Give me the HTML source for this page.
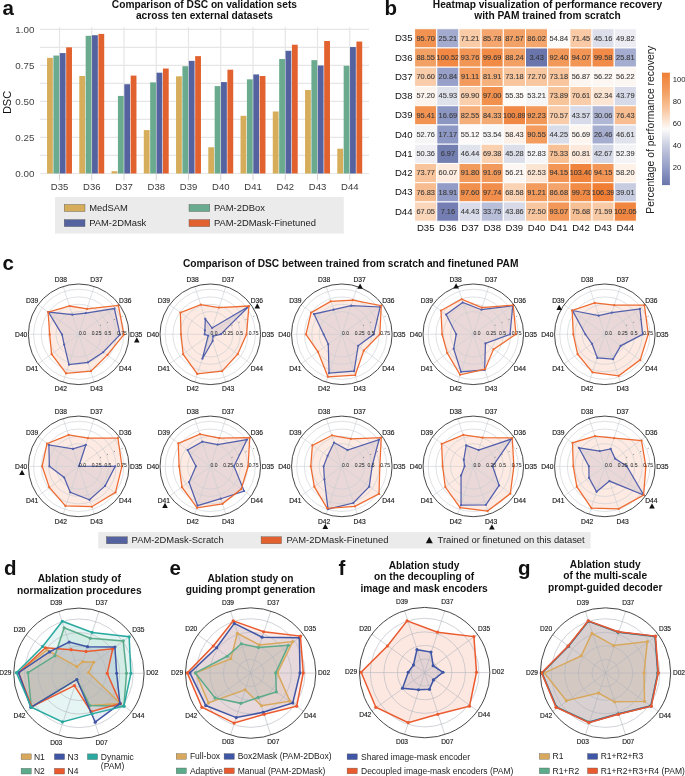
<!DOCTYPE html>
<html><head><meta charset="utf-8"><style>
html,body{margin:0;padding:0;background:#fff;}
svg{display:block;font-family:"Liberation Sans", sans-serif;will-change:transform;}
</style></head><body>
<svg width="685" height="776" viewBox="0 0 685 776">
<rect width="685" height="776" fill="#fff"/>
<text x="2.5" y="15.3" font-size="20.5" font-weight="bold" text-anchor="start" fill="#111">a</text>
<text x="384.5" y="14.8" font-size="20.5" font-weight="bold" text-anchor="start" fill="#111">b</text>
<text x="2.5" y="269.8" font-size="20.5" font-weight="bold" text-anchor="start" fill="#111">c</text>
<text x="4" y="575" font-size="20.5" font-weight="bold" text-anchor="start" fill="#111">d</text>
<text x="169.5" y="575" font-size="20.5" font-weight="bold" text-anchor="start" fill="#111">e</text>
<text x="338.5" y="575" font-size="20.5" font-weight="bold" text-anchor="start" fill="#111">f</text>
<text x="518" y="575" font-size="20.5" font-weight="bold" text-anchor="start" fill="#111">g</text>
<line x1="40" y1="173.5" x2="369" y2="173.5" stroke="#e6e6e6" stroke-width="1.2"/>
<line x1="40" y1="155.47" x2="369" y2="155.47" stroke="#e6e6e6" stroke-width="1.2"/>
<line x1="40" y1="137.45" x2="369" y2="137.45" stroke="#e6e6e6" stroke-width="1.2"/>
<line x1="40" y1="119.43" x2="369" y2="119.43" stroke="#e6e6e6" stroke-width="1.2"/>
<line x1="40" y1="101.4" x2="369" y2="101.4" stroke="#e6e6e6" stroke-width="1.2"/>
<line x1="40" y1="83.38" x2="369" y2="83.38" stroke="#e6e6e6" stroke-width="1.2"/>
<line x1="40" y1="65.35" x2="369" y2="65.35" stroke="#e6e6e6" stroke-width="1.2"/>
<line x1="40" y1="47.33" x2="369" y2="47.33" stroke="#e6e6e6" stroke-width="1.2"/>
<line x1="40" y1="29.3" x2="369" y2="29.3" stroke="#e6e6e6" stroke-width="1.2"/>
<line x1="59.5" y1="27" x2="59.5" y2="173.5" stroke="#e6e6e6" stroke-width="1.2"/>
<line x1="59.5" y1="173.5" x2="59.5" y2="180.4" stroke="#cfcfcf" stroke-width="0.9"/>
<line x1="91.75" y1="27" x2="91.75" y2="173.5" stroke="#e6e6e6" stroke-width="1.2"/>
<line x1="91.75" y1="173.5" x2="91.75" y2="180.4" stroke="#cfcfcf" stroke-width="0.9"/>
<line x1="124" y1="27" x2="124" y2="173.5" stroke="#e6e6e6" stroke-width="1.2"/>
<line x1="124" y1="173.5" x2="124" y2="180.4" stroke="#cfcfcf" stroke-width="0.9"/>
<line x1="156.25" y1="27" x2="156.25" y2="173.5" stroke="#e6e6e6" stroke-width="1.2"/>
<line x1="156.25" y1="173.5" x2="156.25" y2="180.4" stroke="#cfcfcf" stroke-width="0.9"/>
<line x1="188.5" y1="27" x2="188.5" y2="173.5" stroke="#e6e6e6" stroke-width="1.2"/>
<line x1="188.5" y1="173.5" x2="188.5" y2="180.4" stroke="#cfcfcf" stroke-width="0.9"/>
<line x1="220.75" y1="27" x2="220.75" y2="173.5" stroke="#e6e6e6" stroke-width="1.2"/>
<line x1="220.75" y1="173.5" x2="220.75" y2="180.4" stroke="#cfcfcf" stroke-width="0.9"/>
<line x1="253" y1="27" x2="253" y2="173.5" stroke="#e6e6e6" stroke-width="1.2"/>
<line x1="253" y1="173.5" x2="253" y2="180.4" stroke="#cfcfcf" stroke-width="0.9"/>
<line x1="285.25" y1="27" x2="285.25" y2="173.5" stroke="#e6e6e6" stroke-width="1.2"/>
<line x1="285.25" y1="173.5" x2="285.25" y2="180.4" stroke="#cfcfcf" stroke-width="0.9"/>
<line x1="317.5" y1="27" x2="317.5" y2="173.5" stroke="#e6e6e6" stroke-width="1.2"/>
<line x1="317.5" y1="173.5" x2="317.5" y2="180.4" stroke="#cfcfcf" stroke-width="0.9"/>
<line x1="349.75" y1="27" x2="349.75" y2="173.5" stroke="#e6e6e6" stroke-width="1.2"/>
<line x1="349.75" y1="173.5" x2="349.75" y2="180.4" stroke="#cfcfcf" stroke-width="0.9"/>
<rect x="47.03" y="57.85" width="5.8" height="115.65" fill="#d5ad5b"/>
<rect x="53.41" y="55.54" width="5.8" height="117.96" fill="#6aab8f"/>
<rect x="59.79" y="53.09" width="5.8" height="120.41" fill="#5562a0"/>
<rect x="66.17" y="47.33" width="5.8" height="126.17" fill="#e2622f"/>
<rect x="79.28" y="76.02" width="5.8" height="97.48" fill="#d5ad5b"/>
<rect x="85.66" y="35.79" width="5.8" height="137.71" fill="#6aab8f"/>
<rect x="92.04" y="35.21" width="5.8" height="138.29" fill="#5562a0"/>
<rect x="98.42" y="33.91" width="5.8" height="139.59" fill="#e2622f"/>
<rect x="111.53" y="171.19" width="5.8" height="2.31" fill="#d5ad5b"/>
<rect x="117.91" y="95.92" width="5.8" height="77.58" fill="#6aab8f"/>
<rect x="124.29" y="84.24" width="5.8" height="89.26" fill="#5562a0"/>
<rect x="130.67" y="75.59" width="5.8" height="97.91" fill="#e2622f"/>
<rect x="143.78" y="130.1" width="5.8" height="43.4" fill="#d5ad5b"/>
<rect x="150.16" y="82.37" width="5.8" height="91.13" fill="#6aab8f"/>
<rect x="156.54" y="72.7" width="5.8" height="100.8" fill="#5562a0"/>
<rect x="162.92" y="68.52" width="5.8" height="104.98" fill="#e2622f"/>
<rect x="176.03" y="76.31" width="5.8" height="97.19" fill="#d5ad5b"/>
<rect x="182.41" y="66.22" width="5.8" height="107.28" fill="#6aab8f"/>
<rect x="188.79" y="60.88" width="5.8" height="112.62" fill="#5562a0"/>
<rect x="195.17" y="56.12" width="5.8" height="117.38" fill="#e2622f"/>
<rect x="208.28" y="147.26" width="5.8" height="26.24" fill="#d5ad5b"/>
<rect x="214.66" y="86.11" width="5.8" height="87.39" fill="#6aab8f"/>
<rect x="221.04" y="82.08" width="5.8" height="91.42" fill="#5562a0"/>
<rect x="227.42" y="69.68" width="5.8" height="103.82" fill="#e2622f"/>
<rect x="240.53" y="115.82" width="5.8" height="57.68" fill="#d5ad5b"/>
<rect x="246.91" y="79.34" width="5.8" height="94.16" fill="#6aab8f"/>
<rect x="253.29" y="74.43" width="5.8" height="99.07" fill="#5562a0"/>
<rect x="259.67" y="76.02" width="5.8" height="97.48" fill="#e2622f"/>
<rect x="272.78" y="111.49" width="5.8" height="62.01" fill="#d5ad5b"/>
<rect x="279.16" y="59.01" width="5.8" height="114.49" fill="#6aab8f"/>
<rect x="285.54" y="50.79" width="5.8" height="122.71" fill="#5562a0"/>
<rect x="291.92" y="44.73" width="5.8" height="128.77" fill="#e2622f"/>
<rect x="305.03" y="90.01" width="5.8" height="83.49" fill="#d5ad5b"/>
<rect x="311.41" y="60.16" width="5.8" height="113.34" fill="#6aab8f"/>
<rect x="317.79" y="65.49" width="5.8" height="108.01" fill="#5562a0"/>
<rect x="324.17" y="40.98" width="5.8" height="132.52" fill="#e2622f"/>
<rect x="337.28" y="148.7" width="5.8" height="24.8" fill="#d5ad5b"/>
<rect x="343.66" y="65.78" width="5.8" height="107.72" fill="#6aab8f"/>
<rect x="350.04" y="47.04" width="5.8" height="126.46" fill="#5562a0"/>
<rect x="356.42" y="41.56" width="5.8" height="131.94" fill="#e2622f"/>
<text x="34.4" y="176.9" font-size="9.8" text-anchor="end" fill="#444">0.00</text>
<text x="34.4" y="140.85" font-size="9.8" text-anchor="end" fill="#444">0.25</text>
<text x="34.4" y="104.8" font-size="9.8" text-anchor="end" fill="#444">0.50</text>
<text x="34.4" y="68.75" font-size="9.8" text-anchor="end" fill="#444">0.75</text>
<text x="34.4" y="32.7" font-size="9.8" text-anchor="end" fill="#444">1.00</text>
<text x="59.5" y="190.1" font-size="9.5" text-anchor="middle" fill="#3a3a3a">D35</text>
<text x="91.75" y="190.1" font-size="9.5" text-anchor="middle" fill="#3a3a3a">D36</text>
<text x="124" y="190.1" font-size="9.5" text-anchor="middle" fill="#3a3a3a">D37</text>
<text x="156.25" y="190.1" font-size="9.5" text-anchor="middle" fill="#3a3a3a">D38</text>
<text x="188.5" y="190.1" font-size="9.5" text-anchor="middle" fill="#3a3a3a">D39</text>
<text x="220.75" y="190.1" font-size="9.5" text-anchor="middle" fill="#3a3a3a">D40</text>
<text x="253" y="190.1" font-size="9.5" text-anchor="middle" fill="#3a3a3a">D41</text>
<text x="285.25" y="190.1" font-size="9.5" text-anchor="middle" fill="#3a3a3a">D42</text>
<text x="317.5" y="190.1" font-size="9.5" text-anchor="middle" fill="#3a3a3a">D43</text>
<text x="349.75" y="190.1" font-size="9.5" text-anchor="middle" fill="#3a3a3a">D44</text>
<text x="0" y="0" font-size="11" fill="#111" text-anchor="middle" transform="translate(11.0,102.5) rotate(-90)">DSC</text>
<text x="204.4" y="8.1" font-size="10.2" font-weight="bold" text-anchor="middle" fill="#111">Comparison of DSC on validation sets</text>
<text x="204.4" y="19.1" font-size="10.2" font-weight="bold" text-anchor="middle" fill="#111">across ten external datasets</text>
<rect x="55" y="197" width="288.8" height="36.6" fill="#ebebeb"/>
<rect x="64.2" y="204.5" width="20.8" height="7" fill="#d5ad5b" stroke="#555" stroke-width="0.4"/>
<text x="89.2" y="210.7" font-size="9.4" text-anchor="start" fill="#222">MedSAM</text>
<rect x="64.2" y="219.6" width="20.8" height="7" fill="#5562a0" stroke="#555" stroke-width="0.4"/>
<text x="89.2" y="225.8" font-size="9.4" text-anchor="start" fill="#222">PAM-2DMask</text>
<rect x="189" y="204.5" width="20.8" height="7" fill="#6aab8f" stroke="#555" stroke-width="0.4"/>
<text x="214" y="210.7" font-size="9.4" text-anchor="start" fill="#222">PAM-2DBox</text>
<rect x="189" y="219.6" width="20.8" height="7" fill="#e2622f" stroke="#555" stroke-width="0.4"/>
<text x="214" y="225.8" font-size="9.4" text-anchor="start" fill="#222">PAM-2DMask-Finetuned</text>
<rect x="414.6" y="28.7" width="22.18" height="19.25" fill="#f29251" stroke="#fff" stroke-width="1"/>
<text x="425.69" y="40.62" font-size="7.4" text-anchor="middle" fill="#383838" stroke="#383838" stroke-width="0.1">95.70</text>
<rect x="436.78" y="28.7" width="22.18" height="19.25" fill="#a3abce" stroke="#fff" stroke-width="1"/>
<text x="447.87" y="40.62" font-size="7.4" text-anchor="middle" fill="#383838" stroke="#383838" stroke-width="0.1">25.21</text>
<rect x="458.96" y="28.7" width="22.18" height="19.25" fill="#f9cba7" stroke="#fff" stroke-width="1"/>
<text x="470.05" y="40.62" font-size="7.4" text-anchor="middle" fill="#383838" stroke="#383838" stroke-width="0.1">71.21</text>
<rect x="481.14" y="28.7" width="22.18" height="19.25" fill="#f4a66e" stroke="#fff" stroke-width="1"/>
<text x="492.23" y="40.62" font-size="7.4" text-anchor="middle" fill="#383838" stroke="#383838" stroke-width="0.1">85.78</text>
<rect x="503.32" y="28.7" width="22.18" height="19.25" fill="#f3a267" stroke="#fff" stroke-width="1"/>
<text x="514.41" y="40.62" font-size="7.4" text-anchor="middle" fill="#383838" stroke="#383838" stroke-width="0.1">87.57</text>
<rect x="525.5" y="28.7" width="22.18" height="19.25" fill="#f4a66d" stroke="#fff" stroke-width="1"/>
<text x="536.59" y="40.62" font-size="7.4" text-anchor="middle" fill="#383838" stroke="#383838" stroke-width="0.1">86.02</text>
<rect x="547.68" y="28.7" width="22.18" height="19.25" fill="#fdfbfa" stroke="#fff" stroke-width="1"/>
<text x="558.77" y="40.62" font-size="7.4" text-anchor="middle" fill="#383838" stroke="#383838" stroke-width="0.1">54.84</text>
<rect x="569.86" y="28.7" width="22.18" height="19.25" fill="#f9caa5" stroke="#fff" stroke-width="1"/>
<text x="580.95" y="40.62" font-size="7.4" text-anchor="middle" fill="#383838" stroke="#383838" stroke-width="0.1">71.45</text>
<rect x="592.04" y="28.7" width="22.18" height="19.25" fill="#dcdeea" stroke="#fff" stroke-width="1"/>
<text x="603.13" y="40.62" font-size="7.4" text-anchor="middle" fill="#383838" stroke="#383838" stroke-width="0.1">45.16</text>
<rect x="614.22" y="28.7" width="22.18" height="19.25" fill="#ececf2" stroke="#fff" stroke-width="1"/>
<text x="625.31" y="40.62" font-size="7.4" text-anchor="middle" fill="#383838" stroke="#383838" stroke-width="0.1">49.82</text>
<rect x="414.6" y="47.95" width="22.18" height="19.25" fill="#f3a064" stroke="#fff" stroke-width="1"/>
<text x="425.69" y="59.88" font-size="7.4" text-anchor="middle" fill="#383838" stroke="#383838" stroke-width="0.1">88.55</text>
<rect x="436.78" y="47.95" width="22.18" height="19.25" fill="#f18944" stroke="#fff" stroke-width="1"/>
<text x="447.87" y="59.88" font-size="7.4" text-anchor="middle" fill="#383838" stroke="#383838" stroke-width="0.1">100.52</text>
<rect x="458.96" y="47.95" width="22.18" height="19.25" fill="#f29656" stroke="#fff" stroke-width="1"/>
<text x="470.05" y="59.88" font-size="7.4" text-anchor="middle" fill="#383838" stroke="#383838" stroke-width="0.1">93.76</text>
<rect x="481.14" y="47.95" width="22.18" height="19.25" fill="#f18b46" stroke="#fff" stroke-width="1"/>
<text x="492.23" y="59.88" font-size="7.4" text-anchor="middle" fill="#383838" stroke="#383838" stroke-width="0.1">99.69</text>
<rect x="503.32" y="47.95" width="22.18" height="19.25" fill="#f3a064" stroke="#fff" stroke-width="1"/>
<text x="514.41" y="59.88" font-size="7.4" text-anchor="middle" fill="#383838" stroke="#383838" stroke-width="0.1">88.24</text>
<rect x="525.5" y="47.95" width="22.18" height="19.25" fill="#6a75ab" stroke="#fff" stroke-width="1"/>
<text x="536.59" y="59.88" font-size="7.4" text-anchor="middle" fill="#383838" stroke="#383838" stroke-width="0.1">3.43</text>
<rect x="547.68" y="47.95" width="22.18" height="19.25" fill="#f29859" stroke="#fff" stroke-width="1"/>
<text x="558.77" y="59.88" font-size="7.4" text-anchor="middle" fill="#383838" stroke="#383838" stroke-width="0.1">92.40</text>
<rect x="569.86" y="47.95" width="22.18" height="19.25" fill="#f29555" stroke="#fff" stroke-width="1"/>
<text x="580.95" y="59.88" font-size="7.4" text-anchor="middle" fill="#383838" stroke="#383838" stroke-width="0.1">94.07</text>
<rect x="592.04" y="47.95" width="22.18" height="19.25" fill="#f18b47" stroke="#fff" stroke-width="1"/>
<text x="603.13" y="59.88" font-size="7.4" text-anchor="middle" fill="#383838" stroke="#383838" stroke-width="0.1">99.58</text>
<rect x="614.22" y="47.95" width="22.18" height="19.25" fill="#a4accf" stroke="#fff" stroke-width="1"/>
<text x="625.31" y="59.88" font-size="7.4" text-anchor="middle" fill="#383838" stroke="#383838" stroke-width="0.1">25.81</text>
<rect x="414.6" y="67.2" width="22.18" height="19.25" fill="#f9cdaa" stroke="#fff" stroke-width="1"/>
<text x="425.69" y="79.12" font-size="7.4" text-anchor="middle" fill="#383838" stroke="#383838" stroke-width="0.1">70.60</text>
<rect x="436.78" y="67.2" width="22.18" height="19.25" fill="#97a0c9" stroke="#fff" stroke-width="1"/>
<text x="447.87" y="79.12" font-size="7.4" text-anchor="middle" fill="#383838" stroke="#383838" stroke-width="0.1">20.84</text>
<rect x="458.96" y="67.2" width="22.18" height="19.25" fill="#f39b5d" stroke="#fff" stroke-width="1"/>
<text x="470.05" y="79.12" font-size="7.4" text-anchor="middle" fill="#383838" stroke="#383838" stroke-width="0.1">91.11</text>
<rect x="481.14" y="67.2" width="22.18" height="19.25" fill="#f5b07c" stroke="#fff" stroke-width="1"/>
<text x="492.23" y="79.12" font-size="7.4" text-anchor="middle" fill="#383838" stroke="#383838" stroke-width="0.1">81.91</text>
<rect x="503.32" y="67.2" width="22.18" height="19.25" fill="#f8c59d" stroke="#fff" stroke-width="1"/>
<text x="514.41" y="79.12" font-size="7.4" text-anchor="middle" fill="#383838" stroke="#383838" stroke-width="0.1">73.18</text>
<rect x="525.5" y="67.2" width="22.18" height="19.25" fill="#f8c79f" stroke="#fff" stroke-width="1"/>
<text x="536.59" y="79.12" font-size="7.4" text-anchor="middle" fill="#383838" stroke="#383838" stroke-width="0.1">72.70</text>
<rect x="547.68" y="67.2" width="22.18" height="19.25" fill="#f8c59d" stroke="#fff" stroke-width="1"/>
<text x="558.77" y="79.12" font-size="7.4" text-anchor="middle" fill="#383838" stroke="#383838" stroke-width="0.1">73.18</text>
<rect x="569.86" y="67.2" width="22.18" height="19.25" fill="#fdf5ef" stroke="#fff" stroke-width="1"/>
<text x="580.95" y="79.12" font-size="7.4" text-anchor="middle" fill="#383838" stroke="#383838" stroke-width="0.1">56.87</text>
<rect x="592.04" y="67.2" width="22.18" height="19.25" fill="#fdf7f3" stroke="#fff" stroke-width="1"/>
<text x="603.13" y="79.12" font-size="7.4" text-anchor="middle" fill="#383838" stroke="#383838" stroke-width="0.1">56.22</text>
<rect x="614.22" y="67.2" width="22.18" height="19.25" fill="#fdf7f3" stroke="#fff" stroke-width="1"/>
<text x="625.31" y="79.12" font-size="7.4" text-anchor="middle" fill="#383838" stroke="#383838" stroke-width="0.1">56.22</text>
<rect x="414.6" y="86.45" width="22.18" height="19.25" fill="#fdf4ed" stroke="#fff" stroke-width="1"/>
<text x="425.69" y="98.38" font-size="7.4" text-anchor="middle" fill="#383838" stroke="#383838" stroke-width="0.1">57.20</text>
<rect x="436.78" y="86.45" width="22.18" height="19.25" fill="#dfe1eb" stroke="#fff" stroke-width="1"/>
<text x="447.87" y="98.38" font-size="7.4" text-anchor="middle" fill="#383838" stroke="#383838" stroke-width="0.1">45.93</text>
<rect x="458.96" y="86.45" width="22.18" height="19.25" fill="#f9cfad" stroke="#fff" stroke-width="1"/>
<text x="470.05" y="98.38" font-size="7.4" text-anchor="middle" fill="#383838" stroke="#383838" stroke-width="0.1">69.90</text>
<rect x="481.14" y="86.45" width="22.18" height="19.25" fill="#f2904d" stroke="#fff" stroke-width="1"/>
<text x="492.23" y="98.38" font-size="7.4" text-anchor="middle" fill="#383838" stroke="#383838" stroke-width="0.1">97.00</text>
<rect x="503.32" y="86.45" width="22.18" height="19.25" fill="#fdfaf8" stroke="#fff" stroke-width="1"/>
<text x="514.41" y="98.38" font-size="7.4" text-anchor="middle" fill="#383838" stroke="#383838" stroke-width="0.1">55.35</text>
<rect x="525.5" y="86.45" width="22.18" height="19.25" fill="#f7f6f7" stroke="#fff" stroke-width="1"/>
<text x="536.59" y="98.38" font-size="7.4" text-anchor="middle" fill="#383838" stroke="#383838" stroke-width="0.1">53.21</text>
<rect x="547.68" y="86.45" width="22.18" height="19.25" fill="#f8c49a" stroke="#fff" stroke-width="1"/>
<text x="558.77" y="98.38" font-size="7.4" text-anchor="middle" fill="#383838" stroke="#383838" stroke-width="0.1">73.89</text>
<rect x="569.86" y="86.45" width="22.18" height="19.25" fill="#f9cdaa" stroke="#fff" stroke-width="1"/>
<text x="580.95" y="98.38" font-size="7.4" text-anchor="middle" fill="#383838" stroke="#383838" stroke-width="0.1">70.61</text>
<rect x="592.04" y="86.45" width="22.18" height="19.25" fill="#fce5d3" stroke="#fff" stroke-width="1"/>
<text x="603.13" y="98.38" font-size="7.4" text-anchor="middle" fill="#383838" stroke="#383838" stroke-width="0.1">62.34</text>
<rect x="614.22" y="86.45" width="22.18" height="19.25" fill="#d7dae8" stroke="#fff" stroke-width="1"/>
<text x="625.31" y="98.38" font-size="7.4" text-anchor="middle" fill="#383838" stroke="#383838" stroke-width="0.1">43.79</text>
<rect x="414.6" y="105.7" width="22.18" height="19.25" fill="#f29352" stroke="#fff" stroke-width="1"/>
<text x="425.69" y="117.62" font-size="7.4" text-anchor="middle" fill="#383838" stroke="#383838" stroke-width="0.1">95.41</text>
<rect x="436.78" y="105.7" width="22.18" height="19.25" fill="#8c96c3" stroke="#fff" stroke-width="1"/>
<text x="447.87" y="117.62" font-size="7.4" text-anchor="middle" fill="#383838" stroke="#383838" stroke-width="0.1">16.69</text>
<rect x="458.96" y="105.7" width="22.18" height="19.25" fill="#f5ae7a" stroke="#fff" stroke-width="1"/>
<text x="470.05" y="117.62" font-size="7.4" text-anchor="middle" fill="#383838" stroke="#383838" stroke-width="0.1">82.55</text>
<rect x="481.14" y="105.7" width="22.18" height="19.25" fill="#f4aa73" stroke="#fff" stroke-width="1"/>
<text x="492.23" y="117.62" font-size="7.4" text-anchor="middle" fill="#383838" stroke="#383838" stroke-width="0.1">84.33</text>
<rect x="503.32" y="105.7" width="22.18" height="19.25" fill="#f18843" stroke="#fff" stroke-width="1"/>
<text x="514.41" y="117.62" font-size="7.4" text-anchor="middle" fill="#383838" stroke="#383838" stroke-width="0.1">100.89</text>
<rect x="525.5" y="105.7" width="22.18" height="19.25" fill="#f2995a" stroke="#fff" stroke-width="1"/>
<text x="536.59" y="117.62" font-size="7.4" text-anchor="middle" fill="#383838" stroke="#383838" stroke-width="0.1">92.23</text>
<rect x="547.68" y="105.7" width="22.18" height="19.25" fill="#f9cdaa" stroke="#fff" stroke-width="1"/>
<text x="558.77" y="117.62" font-size="7.4" text-anchor="middle" fill="#383838" stroke="#383838" stroke-width="0.1">70.57</text>
<rect x="569.86" y="105.7" width="22.18" height="19.25" fill="#d7dae8" stroke="#fff" stroke-width="1"/>
<text x="580.95" y="117.62" font-size="7.4" text-anchor="middle" fill="#383838" stroke="#383838" stroke-width="0.1">43.57</text>
<rect x="592.04" y="105.7" width="22.18" height="19.25" fill="#b0b7d4" stroke="#fff" stroke-width="1"/>
<text x="603.13" y="117.62" font-size="7.4" text-anchor="middle" fill="#383838" stroke="#383838" stroke-width="0.1">30.06</text>
<rect x="614.22" y="105.7" width="22.18" height="19.25" fill="#f7bd91" stroke="#fff" stroke-width="1"/>
<text x="625.31" y="117.62" font-size="7.4" text-anchor="middle" fill="#383838" stroke="#383838" stroke-width="0.1">76.43</text>
<rect x="414.6" y="124.95" width="22.18" height="19.25" fill="#f6f5f6" stroke="#fff" stroke-width="1"/>
<text x="425.69" y="136.88" font-size="7.4" text-anchor="middle" fill="#383838" stroke="#383838" stroke-width="0.1">52.76</text>
<rect x="436.78" y="124.95" width="22.18" height="19.25" fill="#8e98c4" stroke="#fff" stroke-width="1"/>
<text x="447.87" y="136.88" font-size="7.4" text-anchor="middle" fill="#383838" stroke="#383838" stroke-width="0.1">17.17</text>
<rect x="458.96" y="124.95" width="22.18" height="19.25" fill="#fdfaf9" stroke="#fff" stroke-width="1"/>
<text x="470.05" y="136.88" font-size="7.4" text-anchor="middle" fill="#383838" stroke="#383838" stroke-width="0.1">55.12</text>
<rect x="481.14" y="124.95" width="22.18" height="19.25" fill="#f8f7f8" stroke="#fff" stroke-width="1"/>
<text x="492.23" y="136.88" font-size="7.4" text-anchor="middle" fill="#383838" stroke="#383838" stroke-width="0.1">53.54</text>
<rect x="503.32" y="124.95" width="22.18" height="19.25" fill="#fdf0e6" stroke="#fff" stroke-width="1"/>
<text x="514.41" y="136.88" font-size="7.4" text-anchor="middle" fill="#383838" stroke="#383838" stroke-width="0.1">58.43</text>
<rect x="525.5" y="124.95" width="22.18" height="19.25" fill="#f39c5e" stroke="#fff" stroke-width="1"/>
<text x="536.59" y="136.88" font-size="7.4" text-anchor="middle" fill="#383838" stroke="#383838" stroke-width="0.1">90.55</text>
<rect x="547.68" y="124.95" width="22.18" height="19.25" fill="#d9dce9" stroke="#fff" stroke-width="1"/>
<text x="558.77" y="136.88" font-size="7.4" text-anchor="middle" fill="#383838" stroke="#383838" stroke-width="0.1">44.25</text>
<rect x="569.86" y="124.95" width="22.18" height="19.25" fill="#fdf6f0" stroke="#fff" stroke-width="1"/>
<text x="580.95" y="136.88" font-size="7.4" text-anchor="middle" fill="#383838" stroke="#383838" stroke-width="0.1">56.69</text>
<rect x="592.04" y="124.95" width="22.18" height="19.25" fill="#a6aed0" stroke="#fff" stroke-width="1"/>
<text x="603.13" y="136.88" font-size="7.4" text-anchor="middle" fill="#383838" stroke="#383838" stroke-width="0.1">26.46</text>
<rect x="614.22" y="124.95" width="22.18" height="19.25" fill="#e1e3ec" stroke="#fff" stroke-width="1"/>
<text x="625.31" y="136.88" font-size="7.4" text-anchor="middle" fill="#383838" stroke="#383838" stroke-width="0.1">46.61</text>
<rect x="414.6" y="144.2" width="22.18" height="19.25" fill="#eeeef3" stroke="#fff" stroke-width="1"/>
<text x="425.69" y="156.12" font-size="7.4" text-anchor="middle" fill="#383838" stroke="#383838" stroke-width="0.1">50.36</text>
<rect x="436.78" y="144.2" width="22.18" height="19.25" fill="#737eb1" stroke="#fff" stroke-width="1"/>
<text x="447.87" y="156.12" font-size="7.4" text-anchor="middle" fill="#383838" stroke="#383838" stroke-width="0.1">6.97</text>
<rect x="458.96" y="144.2" width="22.18" height="19.25" fill="#e0e2ec" stroke="#fff" stroke-width="1"/>
<text x="470.05" y="156.12" font-size="7.4" text-anchor="middle" fill="#383838" stroke="#383838" stroke-width="0.1">46.44</text>
<rect x="481.14" y="144.2" width="22.18" height="19.25" fill="#f9d0b0" stroke="#fff" stroke-width="1"/>
<text x="492.23" y="156.12" font-size="7.4" text-anchor="middle" fill="#383838" stroke="#383838" stroke-width="0.1">69.38</text>
<rect x="503.32" y="144.2" width="22.18" height="19.25" fill="#dcdfea" stroke="#fff" stroke-width="1"/>
<text x="514.41" y="156.12" font-size="7.4" text-anchor="middle" fill="#383838" stroke="#383838" stroke-width="0.1">45.28</text>
<rect x="525.5" y="144.2" width="22.18" height="19.25" fill="#f6f5f7" stroke="#fff" stroke-width="1"/>
<text x="536.59" y="156.12" font-size="7.4" text-anchor="middle" fill="#383838" stroke="#383838" stroke-width="0.1">52.83</text>
<rect x="547.68" y="144.2" width="22.18" height="19.25" fill="#f7c095" stroke="#fff" stroke-width="1"/>
<text x="558.77" y="156.12" font-size="7.4" text-anchor="middle" fill="#383838" stroke="#383838" stroke-width="0.1">75.33</text>
<rect x="569.86" y="144.2" width="22.18" height="19.25" fill="#fce9db" stroke="#fff" stroke-width="1"/>
<text x="580.95" y="156.12" font-size="7.4" text-anchor="middle" fill="#383838" stroke="#383838" stroke-width="0.1">60.81</text>
<rect x="592.04" y="144.2" width="22.18" height="19.25" fill="#d4d7e6" stroke="#fff" stroke-width="1"/>
<text x="603.13" y="156.12" font-size="7.4" text-anchor="middle" fill="#383838" stroke="#383838" stroke-width="0.1">42.67</text>
<rect x="614.22" y="144.2" width="22.18" height="19.25" fill="#f4f4f6" stroke="#fff" stroke-width="1"/>
<text x="625.31" y="156.12" font-size="7.4" text-anchor="middle" fill="#383838" stroke="#383838" stroke-width="0.1">52.39</text>
<rect x="414.6" y="163.45" width="22.18" height="19.25" fill="#f8c49b" stroke="#fff" stroke-width="1"/>
<text x="425.69" y="175.38" font-size="7.4" text-anchor="middle" fill="#383838" stroke="#383838" stroke-width="0.1">73.77</text>
<rect x="436.78" y="163.45" width="22.18" height="19.25" fill="#fcebde" stroke="#fff" stroke-width="1"/>
<text x="447.87" y="175.38" font-size="7.4" text-anchor="middle" fill="#383838" stroke="#383838" stroke-width="0.1">60.07</text>
<rect x="458.96" y="163.45" width="22.18" height="19.25" fill="#f29a5b" stroke="#fff" stroke-width="1"/>
<text x="470.05" y="175.38" font-size="7.4" text-anchor="middle" fill="#383838" stroke="#383838" stroke-width="0.1">91.80</text>
<rect x="481.14" y="163.45" width="22.18" height="19.25" fill="#f29a5b" stroke="#fff" stroke-width="1"/>
<text x="492.23" y="175.38" font-size="7.4" text-anchor="middle" fill="#383838" stroke="#383838" stroke-width="0.1">91.69</text>
<rect x="503.32" y="163.45" width="22.18" height="19.25" fill="#fdf7f3" stroke="#fff" stroke-width="1"/>
<text x="514.41" y="175.38" font-size="7.4" text-anchor="middle" fill="#383838" stroke="#383838" stroke-width="0.1">56.21</text>
<rect x="525.5" y="163.45" width="22.18" height="19.25" fill="#fce4d2" stroke="#fff" stroke-width="1"/>
<text x="536.59" y="175.38" font-size="7.4" text-anchor="middle" fill="#383838" stroke="#383838" stroke-width="0.1">62.53</text>
<rect x="547.68" y="163.45" width="22.18" height="19.25" fill="#f29555" stroke="#fff" stroke-width="1"/>
<text x="558.77" y="175.38" font-size="7.4" text-anchor="middle" fill="#383838" stroke="#383838" stroke-width="0.1">94.15</text>
<rect x="569.86" y="163.45" width="22.18" height="19.25" fill="#f0843d" stroke="#fff" stroke-width="1"/>
<text x="580.95" y="175.38" font-size="7.4" text-anchor="middle" fill="#383838" stroke="#383838" stroke-width="0.1">103.40</text>
<rect x="592.04" y="163.45" width="22.18" height="19.25" fill="#f29555" stroke="#fff" stroke-width="1"/>
<text x="603.13" y="175.38" font-size="7.4" text-anchor="middle" fill="#383838" stroke="#383838" stroke-width="0.1">94.15</text>
<rect x="614.22" y="163.45" width="22.18" height="19.25" fill="#fdf1e8" stroke="#fff" stroke-width="1"/>
<text x="625.31" y="175.38" font-size="7.4" text-anchor="middle" fill="#383838" stroke="#383838" stroke-width="0.1">58.20</text>
<rect x="414.6" y="182.7" width="22.18" height="19.25" fill="#f7bc8f" stroke="#fff" stroke-width="1"/>
<text x="425.69" y="194.62" font-size="7.4" text-anchor="middle" fill="#383838" stroke="#383838" stroke-width="0.1">76.83</text>
<rect x="436.78" y="182.7" width="22.18" height="19.25" fill="#929cc6" stroke="#fff" stroke-width="1"/>
<text x="447.87" y="194.62" font-size="7.4" text-anchor="middle" fill="#383838" stroke="#383838" stroke-width="0.1">18.91</text>
<rect x="458.96" y="182.7" width="22.18" height="19.25" fill="#f18f4c" stroke="#fff" stroke-width="1"/>
<text x="470.05" y="194.62" font-size="7.4" text-anchor="middle" fill="#383838" stroke="#383838" stroke-width="0.1">97.60</text>
<rect x="481.14" y="182.7" width="22.18" height="19.25" fill="#f18e4c" stroke="#fff" stroke-width="1"/>
<text x="492.23" y="194.62" font-size="7.4" text-anchor="middle" fill="#383838" stroke="#383838" stroke-width="0.1">97.74</text>
<rect x="503.32" y="182.7" width="22.18" height="19.25" fill="#fad3b4" stroke="#fff" stroke-width="1"/>
<text x="514.41" y="194.62" font-size="7.4" text-anchor="middle" fill="#383838" stroke="#383838" stroke-width="0.1">68.58</text>
<rect x="525.5" y="182.7" width="22.18" height="19.25" fill="#f39b5d" stroke="#fff" stroke-width="1"/>
<text x="536.59" y="194.62" font-size="7.4" text-anchor="middle" fill="#383838" stroke="#383838" stroke-width="0.1">91.21</text>
<rect x="547.68" y="182.7" width="22.18" height="19.25" fill="#f4a46a" stroke="#fff" stroke-width="1"/>
<text x="558.77" y="194.62" font-size="7.4" text-anchor="middle" fill="#383838" stroke="#383838" stroke-width="0.1">86.68</text>
<rect x="569.86" y="182.7" width="22.18" height="19.25" fill="#f18b46" stroke="#fff" stroke-width="1"/>
<text x="580.95" y="194.62" font-size="7.4" text-anchor="middle" fill="#383838" stroke="#383838" stroke-width="0.1">99.73</text>
<rect x="592.04" y="182.7" width="22.18" height="19.25" fill="#f07e35" stroke="#fff" stroke-width="1"/>
<text x="603.13" y="194.62" font-size="7.4" text-anchor="middle" fill="#383838" stroke="#383838" stroke-width="0.1">106.39</text>
<rect x="614.22" y="182.7" width="22.18" height="19.25" fill="#c7cce0" stroke="#fff" stroke-width="1"/>
<text x="625.31" y="194.62" font-size="7.4" text-anchor="middle" fill="#383838" stroke="#383838" stroke-width="0.1">39.01</text>
<rect x="414.6" y="201.95" width="22.18" height="19.25" fill="#fad7bb" stroke="#fff" stroke-width="1"/>
<text x="425.69" y="213.88" font-size="7.4" text-anchor="middle" fill="#383838" stroke="#383838" stroke-width="0.1">67.05</text>
<rect x="436.78" y="201.95" width="22.18" height="19.25" fill="#747eb2" stroke="#fff" stroke-width="1"/>
<text x="447.87" y="213.88" font-size="7.4" text-anchor="middle" fill="#383838" stroke="#383838" stroke-width="0.1">7.16</text>
<rect x="458.96" y="201.95" width="22.18" height="19.25" fill="#dadce9" stroke="#fff" stroke-width="1"/>
<text x="470.05" y="213.88" font-size="7.4" text-anchor="middle" fill="#383838" stroke="#383838" stroke-width="0.1">44.43</text>
<rect x="481.14" y="201.95" width="22.18" height="19.25" fill="#b9bfd9" stroke="#fff" stroke-width="1"/>
<text x="492.23" y="213.88" font-size="7.4" text-anchor="middle" fill="#383838" stroke="#383838" stroke-width="0.1">33.75</text>
<rect x="503.32" y="201.95" width="22.18" height="19.25" fill="#d8dae8" stroke="#fff" stroke-width="1"/>
<text x="514.41" y="213.88" font-size="7.4" text-anchor="middle" fill="#383838" stroke="#383838" stroke-width="0.1">43.86</text>
<rect x="525.5" y="201.95" width="22.18" height="19.25" fill="#f8c7a0" stroke="#fff" stroke-width="1"/>
<text x="536.59" y="213.88" font-size="7.4" text-anchor="middle" fill="#383838" stroke="#383838" stroke-width="0.1">72.50</text>
<rect x="547.68" y="201.95" width="22.18" height="19.25" fill="#f29758" stroke="#fff" stroke-width="1"/>
<text x="558.77" y="213.88" font-size="7.4" text-anchor="middle" fill="#383838" stroke="#383838" stroke-width="0.1">93.07</text>
<rect x="569.86" y="201.95" width="22.18" height="19.25" fill="#f7bf94" stroke="#fff" stroke-width="1"/>
<text x="580.95" y="213.88" font-size="7.4" text-anchor="middle" fill="#383838" stroke="#383838" stroke-width="0.1">75.68</text>
<rect x="592.04" y="201.95" width="22.18" height="19.25" fill="#f8caa5" stroke="#fff" stroke-width="1"/>
<text x="603.13" y="213.88" font-size="7.4" text-anchor="middle" fill="#383838" stroke="#383838" stroke-width="0.1">71.59</text>
<rect x="614.22" y="201.95" width="22.18" height="19.25" fill="#f18640" stroke="#fff" stroke-width="1"/>
<text x="625.31" y="213.88" font-size="7.4" text-anchor="middle" fill="#383838" stroke="#383838" stroke-width="0.1">102.05</text>
<text x="412.5" y="41.43" font-size="9.6" text-anchor="end" fill="#111">D35</text>
<text x="412.5" y="60.68" font-size="9.6" text-anchor="end" fill="#111">D36</text>
<text x="412.5" y="79.92" font-size="9.6" text-anchor="end" fill="#111">D37</text>
<text x="412.5" y="99.17" font-size="9.6" text-anchor="end" fill="#111">D38</text>
<text x="412.5" y="118.42" font-size="9.6" text-anchor="end" fill="#111">D39</text>
<text x="412.5" y="137.67" font-size="9.6" text-anchor="end" fill="#111">D40</text>
<text x="412.5" y="156.92" font-size="9.6" text-anchor="end" fill="#111">D41</text>
<text x="412.5" y="176.17" font-size="9.6" text-anchor="end" fill="#111">D42</text>
<text x="412.5" y="195.42" font-size="9.6" text-anchor="end" fill="#111">D43</text>
<text x="412.5" y="214.67" font-size="9.6" text-anchor="end" fill="#111">D44</text>
<text x="425.69" y="231.2" font-size="9.6" text-anchor="middle" fill="#111">D35</text>
<text x="447.87" y="231.2" font-size="9.6" text-anchor="middle" fill="#111">D36</text>
<text x="470.05" y="231.2" font-size="9.6" text-anchor="middle" fill="#111">D37</text>
<text x="492.23" y="231.2" font-size="9.6" text-anchor="middle" fill="#111">D38</text>
<text x="514.41" y="231.2" font-size="9.6" text-anchor="middle" fill="#111">D39</text>
<text x="536.59" y="231.2" font-size="9.6" text-anchor="middle" fill="#111">D40</text>
<text x="558.77" y="231.2" font-size="9.6" text-anchor="middle" fill="#111">D41</text>
<text x="580.95" y="231.2" font-size="9.6" text-anchor="middle" fill="#111">D42</text>
<text x="603.13" y="231.2" font-size="9.6" text-anchor="middle" fill="#111">D43</text>
<text x="625.31" y="231.2" font-size="9.6" text-anchor="middle" fill="#111">D44</text>
<text x="547.5" y="8.1" font-size="10.2" font-weight="bold" text-anchor="middle" fill="#111">Heatmap visualization of performance recovery</text>
<text x="547.5" y="19.1" font-size="10.2" font-weight="bold" text-anchor="middle" fill="#111">with PAM trained from scratch</text>
<defs><linearGradient id="cb" x1="0" y1="1" x2="0" y2="0"><stop offset="0.000" stop-color="#6a75ab"/><stop offset="0.050" stop-color="#7782b4"/><stop offset="0.100" stop-color="#858fbe"/><stop offset="0.150" stop-color="#929cc6"/><stop offset="0.200" stop-color="#a0a8cd"/><stop offset="0.250" stop-color="#adb4d3"/><stop offset="0.300" stop-color="#bbc1da"/><stop offset="0.350" stop-color="#c9cee1"/><stop offset="0.400" stop-color="#dadde9"/><stop offset="0.450" stop-color="#ececf2"/><stop offset="0.500" stop-color="#fdfbfa"/><stop offset="0.550" stop-color="#fcecde"/><stop offset="0.600" stop-color="#fbdcc5"/><stop offset="0.650" stop-color="#f9cdab"/><stop offset="0.700" stop-color="#f7c094"/><stop offset="0.750" stop-color="#f6b381"/><stop offset="0.800" stop-color="#f4a66e"/><stop offset="0.850" stop-color="#f39b5d"/><stop offset="0.900" stop-color="#f29150"/><stop offset="0.950" stop-color="#f18842"/><stop offset="1.000" stop-color="#f07e35"/></linearGradient></defs>
<rect x="662" y="72.7" width="7.9" height="112.4" fill="url(#cb)"/>
<text x="672.8" y="169.81" font-size="7.7" text-anchor="start" fill="#222">20</text>
<text x="672.8" y="147.98" font-size="7.7" text-anchor="start" fill="#222">40</text>
<text x="672.8" y="126.14" font-size="7.7" text-anchor="start" fill="#222">60</text>
<text x="672.8" y="104.31" font-size="7.7" text-anchor="start" fill="#222">80</text>
<text x="672.8" y="82.48" font-size="7.7" text-anchor="start" fill="#222">100</text>
<text x="0" y="0" font-size="10.35" fill="#222" text-anchor="middle" transform="translate(653.6,129.7) rotate(-90)">Percentage of performance recovery</text>
<polygon points="120.03,334.60 114.41,308.58 85.82,313.08 72.34,314.69 48.41,312.12 62.06,334.60 64.15,344.55 68.96,364.63 87.91,362.38 103.17,352.26" fill="#5260ac" fill-opacity="0.13" stroke="none"/>
<polygon points="123.88,334.60 118.42,305.37 87.11,308.91 69.61,306.01 48.09,312.12 49.69,334.60 51.62,354.19 66.07,373.46 90.96,371.21 107.50,354.83" fill="#ee6a30" fill-opacity="0.14" stroke="none"/>
<circle cx="78.7" cy="334.3" r="22.7" fill="none" stroke="#cacdd1" stroke-width="0.6"/>
<circle cx="78.7" cy="334.3" r="30" fill="none" stroke="#cacdd1" stroke-width="0.6"/>
<circle cx="78.7" cy="334.3" r="37.4" fill="none" stroke="#cacdd1" stroke-width="0.6"/>
<circle cx="78.7" cy="334.3" r="45.1" fill="none" stroke="#cacdd1" stroke-width="0.6"/>
<line x1="78.7" y1="334.3" x2="129" y2="334.3" stroke="#cacdd1" stroke-width="0.6"/>
<line x1="78.7" y1="334.3" x2="119.39" y2="304.73" stroke="#cacdd1" stroke-width="0.6"/>
<line x1="78.7" y1="334.3" x2="94.24" y2="286.46" stroke="#cacdd1" stroke-width="0.6"/>
<line x1="78.7" y1="334.3" x2="63.16" y2="286.46" stroke="#cacdd1" stroke-width="0.6"/>
<line x1="78.7" y1="334.3" x2="38.01" y2="304.73" stroke="#cacdd1" stroke-width="0.6"/>
<line x1="78.7" y1="334.3" x2="28.4" y2="334.3" stroke="#cacdd1" stroke-width="0.6"/>
<line x1="78.7" y1="334.3" x2="38.01" y2="363.87" stroke="#cacdd1" stroke-width="0.6"/>
<line x1="78.7" y1="334.3" x2="63.16" y2="382.14" stroke="#cacdd1" stroke-width="0.6"/>
<line x1="78.7" y1="334.3" x2="94.24" y2="382.14" stroke="#cacdd1" stroke-width="0.6"/>
<line x1="78.7" y1="334.3" x2="119.39" y2="363.87" stroke="#cacdd1" stroke-width="0.6"/>
<polygon points="120.03,334.60 114.41,308.58 85.82,313.08 72.34,314.69 48.41,312.12 62.06,334.60 64.15,344.55 68.96,364.63 87.91,362.38 103.17,352.26" fill="none" stroke="#5260ac" stroke-width="1.25" stroke-linejoin="miter"/>
<circle cx="120.03" cy="334.60" r="1.1" fill="#5260ac"/>
<circle cx="114.41" cy="308.58" r="1.1" fill="#5260ac"/>
<circle cx="85.82" cy="313.08" r="1.1" fill="#5260ac"/>
<circle cx="72.34" cy="314.69" r="1.1" fill="#5260ac"/>
<circle cx="48.41" cy="312.12" r="1.1" fill="#5260ac"/>
<circle cx="62.06" cy="334.60" r="1.1" fill="#5260ac"/>
<circle cx="64.15" cy="344.55" r="1.1" fill="#5260ac"/>
<circle cx="68.96" cy="364.63" r="1.1" fill="#5260ac"/>
<circle cx="87.91" cy="362.38" r="1.1" fill="#5260ac"/>
<circle cx="103.17" cy="352.26" r="1.1" fill="#5260ac"/>
<polygon points="123.88,334.60 118.42,305.37 87.11,308.91 69.61,306.01 48.09,312.12 49.69,334.60 51.62,354.19 66.07,373.46 90.96,371.21 107.50,354.83" fill="none" stroke="#ee6a30" stroke-width="1.25" stroke-linejoin="miter"/>
<circle cx="123.88" cy="334.60" r="1.1" fill="#ee6a30"/>
<circle cx="118.42" cy="305.37" r="1.1" fill="#ee6a30"/>
<circle cx="87.11" cy="308.91" r="1.1" fill="#ee6a30"/>
<circle cx="69.61" cy="306.01" r="1.1" fill="#ee6a30"/>
<circle cx="48.09" cy="312.12" r="1.1" fill="#ee6a30"/>
<circle cx="49.69" cy="334.60" r="1.1" fill="#ee6a30"/>
<circle cx="51.62" cy="354.19" r="1.1" fill="#ee6a30"/>
<circle cx="66.07" cy="373.46" r="1.1" fill="#ee6a30"/>
<circle cx="90.96" cy="371.21" r="1.1" fill="#ee6a30"/>
<circle cx="107.50" cy="354.83" r="1.1" fill="#ee6a30"/>
<circle cx="78.7" cy="334.3" r="50.3" fill="none" stroke="#333" stroke-width="0.9"/>
<text x="136.2" y="336.71" font-size="6.7" text-anchor="middle" fill="#1a1a1a" stroke="#1a1a1a" stroke-width="0.15">D35</text>
<text x="125.22" y="302.91" font-size="6.7" text-anchor="middle" fill="#1a1a1a" stroke="#1a1a1a" stroke-width="0.15">D36</text>
<text x="96.47" y="282.03" font-size="6.7" text-anchor="middle" fill="#1a1a1a" stroke="#1a1a1a" stroke-width="0.15">D37</text>
<text x="60.93" y="282.03" font-size="6.7" text-anchor="middle" fill="#1a1a1a" stroke="#1a1a1a" stroke-width="0.15">D38</text>
<text x="32.18" y="302.91" font-size="6.7" text-anchor="middle" fill="#1a1a1a" stroke="#1a1a1a" stroke-width="0.15">D39</text>
<text x="21.2" y="336.71" font-size="6.7" text-anchor="middle" fill="#1a1a1a" stroke="#1a1a1a" stroke-width="0.15">D40</text>
<text x="32.18" y="370.51" font-size="6.7" text-anchor="middle" fill="#1a1a1a" stroke="#1a1a1a" stroke-width="0.15">D41</text>
<text x="60.93" y="391.4" font-size="6.7" text-anchor="middle" fill="#1a1a1a" stroke="#1a1a1a" stroke-width="0.15">D42</text>
<text x="96.47" y="391.4" font-size="6.7" text-anchor="middle" fill="#1a1a1a" stroke="#1a1a1a" stroke-width="0.15">D43</text>
<text x="125.22" y="370.51" font-size="6.7" text-anchor="middle" fill="#1a1a1a" stroke="#1a1a1a" stroke-width="0.15">D44</text>
<line x1="99.95" y1="325.5" x2="101.06" y2="325.04" stroke="#555" stroke-width="0.6"/>
<line x1="106.97" y1="322.59" x2="108.08" y2="322.13" stroke="#555" stroke-width="0.6"/>
<line x1="113.9" y1="319.72" x2="115.01" y2="319.26" stroke="#555" stroke-width="0.6"/>
<line x1="121.48" y1="316.58" x2="122.58" y2="316.12" stroke="#555" stroke-width="0.6"/>
<text x="79" y="334.9" font-size="5.0" text-anchor="start" fill="#333" stroke="#333" stroke-width="0.05">0.0</text>
<text x="91.7" y="334.9" font-size="5.0" text-anchor="start" fill="#333" stroke="#333" stroke-width="0.05">0.25</text>
<text x="104.4" y="334.9" font-size="5.0" text-anchor="start" fill="#333" stroke="#333" stroke-width="0.05">0.5</text>
<text x="117.1" y="334.9" font-size="5.0" text-anchor="start" fill="#333" stroke="#333" stroke-width="0.05">0.75</text>
<polygon points="220.95,334.15 248.62,306.50 212.07,328.01 205.30,318.96 204.89,330.47 204.60,334.32 208.22,335.72 202.37,358.69 212.66,340.98 213.07,336.19" fill="#5260ac" fill-opacity="0.13" stroke="none"/>
<polygon points="246.53,334.28 248.94,306.01 218.91,307.62 200.77,304.57 180.37,312.60 181.01,334.28 183.10,354.19 197.23,373.94 222.12,371.21 237.70,354.19" fill="#ee6a30" fill-opacity="0.14" stroke="none"/>
<circle cx="210.3" cy="334.3" r="22.7" fill="none" stroke="#cacdd1" stroke-width="0.6"/>
<circle cx="210.3" cy="334.3" r="30" fill="none" stroke="#cacdd1" stroke-width="0.6"/>
<circle cx="210.3" cy="334.3" r="37.4" fill="none" stroke="#cacdd1" stroke-width="0.6"/>
<circle cx="210.3" cy="334.3" r="45.1" fill="none" stroke="#cacdd1" stroke-width="0.6"/>
<line x1="210.3" y1="334.3" x2="260.6" y2="334.3" stroke="#cacdd1" stroke-width="0.6"/>
<line x1="210.3" y1="334.3" x2="250.99" y2="304.73" stroke="#cacdd1" stroke-width="0.6"/>
<line x1="210.3" y1="334.3" x2="225.84" y2="286.46" stroke="#cacdd1" stroke-width="0.6"/>
<line x1="210.3" y1="334.3" x2="194.76" y2="286.46" stroke="#cacdd1" stroke-width="0.6"/>
<line x1="210.3" y1="334.3" x2="169.61" y2="304.73" stroke="#cacdd1" stroke-width="0.6"/>
<line x1="210.3" y1="334.3" x2="160" y2="334.3" stroke="#cacdd1" stroke-width="0.6"/>
<line x1="210.3" y1="334.3" x2="169.61" y2="363.87" stroke="#cacdd1" stroke-width="0.6"/>
<line x1="210.3" y1="334.3" x2="194.76" y2="382.14" stroke="#cacdd1" stroke-width="0.6"/>
<line x1="210.3" y1="334.3" x2="225.84" y2="382.14" stroke="#cacdd1" stroke-width="0.6"/>
<line x1="210.3" y1="334.3" x2="250.99" y2="363.87" stroke="#cacdd1" stroke-width="0.6"/>
<polygon points="220.95,334.15 248.62,306.50 212.07,328.01 205.30,318.96 204.89,330.47 204.60,334.32 208.22,335.72 202.37,358.69 212.66,340.98 213.07,336.19" fill="none" stroke="#5260ac" stroke-width="1.25" stroke-linejoin="miter"/>
<circle cx="220.95" cy="334.15" r="1.1" fill="#5260ac"/>
<circle cx="248.62" cy="306.50" r="1.1" fill="#5260ac"/>
<circle cx="212.07" cy="328.01" r="1.1" fill="#5260ac"/>
<circle cx="205.30" cy="318.96" r="1.1" fill="#5260ac"/>
<circle cx="204.89" cy="330.47" r="1.1" fill="#5260ac"/>
<circle cx="204.60" cy="334.32" r="1.1" fill="#5260ac"/>
<circle cx="208.22" cy="335.72" r="1.1" fill="#5260ac"/>
<circle cx="202.37" cy="358.69" r="1.1" fill="#5260ac"/>
<circle cx="212.66" cy="340.98" r="1.1" fill="#5260ac"/>
<circle cx="213.07" cy="336.19" r="1.1" fill="#5260ac"/>
<polygon points="246.53,334.28 248.94,306.01 218.91,307.62 200.77,304.57 180.37,312.60 181.01,334.28 183.10,354.19 197.23,373.94 222.12,371.21 237.70,354.19" fill="none" stroke="#ee6a30" stroke-width="1.25" stroke-linejoin="miter"/>
<circle cx="246.53" cy="334.28" r="1.1" fill="#ee6a30"/>
<circle cx="248.94" cy="306.01" r="1.1" fill="#ee6a30"/>
<circle cx="218.91" cy="307.62" r="1.1" fill="#ee6a30"/>
<circle cx="200.77" cy="304.57" r="1.1" fill="#ee6a30"/>
<circle cx="180.37" cy="312.60" r="1.1" fill="#ee6a30"/>
<circle cx="181.01" cy="334.28" r="1.1" fill="#ee6a30"/>
<circle cx="183.10" cy="354.19" r="1.1" fill="#ee6a30"/>
<circle cx="197.23" cy="373.94" r="1.1" fill="#ee6a30"/>
<circle cx="222.12" cy="371.21" r="1.1" fill="#ee6a30"/>
<circle cx="237.70" cy="354.19" r="1.1" fill="#ee6a30"/>
<circle cx="210.3" cy="334.3" r="50.3" fill="none" stroke="#333" stroke-width="0.9"/>
<text x="267.8" y="336.71" font-size="6.7" text-anchor="middle" fill="#1a1a1a" stroke="#1a1a1a" stroke-width="0.15">D35</text>
<text x="256.82" y="302.91" font-size="6.7" text-anchor="middle" fill="#1a1a1a" stroke="#1a1a1a" stroke-width="0.15">D36</text>
<text x="228.07" y="282.03" font-size="6.7" text-anchor="middle" fill="#1a1a1a" stroke="#1a1a1a" stroke-width="0.15">D37</text>
<text x="192.53" y="282.03" font-size="6.7" text-anchor="middle" fill="#1a1a1a" stroke="#1a1a1a" stroke-width="0.15">D38</text>
<text x="163.78" y="302.91" font-size="6.7" text-anchor="middle" fill="#1a1a1a" stroke="#1a1a1a" stroke-width="0.15">D39</text>
<text x="152.8" y="336.71" font-size="6.7" text-anchor="middle" fill="#1a1a1a" stroke="#1a1a1a" stroke-width="0.15">D40</text>
<text x="163.78" y="370.51" font-size="6.7" text-anchor="middle" fill="#1a1a1a" stroke="#1a1a1a" stroke-width="0.15">D41</text>
<text x="192.53" y="391.4" font-size="6.7" text-anchor="middle" fill="#1a1a1a" stroke="#1a1a1a" stroke-width="0.15">D42</text>
<text x="228.07" y="391.4" font-size="6.7" text-anchor="middle" fill="#1a1a1a" stroke="#1a1a1a" stroke-width="0.15">D43</text>
<text x="256.82" y="370.51" font-size="6.7" text-anchor="middle" fill="#1a1a1a" stroke="#1a1a1a" stroke-width="0.15">D44</text>
<line x1="231.55" y1="325.5" x2="232.66" y2="325.04" stroke="#555" stroke-width="0.6"/>
<line x1="238.57" y1="322.59" x2="239.68" y2="322.13" stroke="#555" stroke-width="0.6"/>
<line x1="245.5" y1="319.72" x2="246.61" y2="319.26" stroke="#555" stroke-width="0.6"/>
<line x1="253.08" y1="316.58" x2="254.18" y2="316.12" stroke="#555" stroke-width="0.6"/>
<text x="210.6" y="334.9" font-size="5.0" text-anchor="start" fill="#333" stroke="#333" stroke-width="0.05">0.0</text>
<text x="223.3" y="334.9" font-size="5.0" text-anchor="start" fill="#333" stroke="#333" stroke-width="0.05">0.25</text>
<text x="236" y="334.9" font-size="5.0" text-anchor="start" fill="#333" stroke="#333" stroke-width="0.05">0.5</text>
<text x="248.7" y="334.9" font-size="5.0" text-anchor="start" fill="#333" stroke="#333" stroke-width="0.05">0.75</text>
<polygon points="373.72,334.28 380.14,306.98 351.23,305.69 333.57,309.71 313.98,314.04 323.61,334.28 328.27,344.23 329.07,373.14 354.12,371.21 358.14,345.84" fill="#5260ac" fill-opacity="0.13" stroke="none"/>
<polygon points="379.82,334.28 381.26,305.69 352.84,300.07 330.68,301.36 311.09,312.60 305.95,334.28 317.99,351.78 327.95,376.83 355.25,375.07 363.76,350.66" fill="#ee6a30" fill-opacity="0.14" stroke="none"/>
<circle cx="341.8" cy="334.3" r="22.7" fill="none" stroke="#cacdd1" stroke-width="0.6"/>
<circle cx="341.8" cy="334.3" r="30" fill="none" stroke="#cacdd1" stroke-width="0.6"/>
<circle cx="341.8" cy="334.3" r="37.4" fill="none" stroke="#cacdd1" stroke-width="0.6"/>
<circle cx="341.8" cy="334.3" r="45.1" fill="none" stroke="#cacdd1" stroke-width="0.6"/>
<line x1="341.8" y1="334.3" x2="392.1" y2="334.3" stroke="#cacdd1" stroke-width="0.6"/>
<line x1="341.8" y1="334.3" x2="382.49" y2="304.73" stroke="#cacdd1" stroke-width="0.6"/>
<line x1="341.8" y1="334.3" x2="357.34" y2="286.46" stroke="#cacdd1" stroke-width="0.6"/>
<line x1="341.8" y1="334.3" x2="326.26" y2="286.46" stroke="#cacdd1" stroke-width="0.6"/>
<line x1="341.8" y1="334.3" x2="301.11" y2="304.73" stroke="#cacdd1" stroke-width="0.6"/>
<line x1="341.8" y1="334.3" x2="291.5" y2="334.3" stroke="#cacdd1" stroke-width="0.6"/>
<line x1="341.8" y1="334.3" x2="301.11" y2="363.87" stroke="#cacdd1" stroke-width="0.6"/>
<line x1="341.8" y1="334.3" x2="326.26" y2="382.14" stroke="#cacdd1" stroke-width="0.6"/>
<line x1="341.8" y1="334.3" x2="357.34" y2="382.14" stroke="#cacdd1" stroke-width="0.6"/>
<line x1="341.8" y1="334.3" x2="382.49" y2="363.87" stroke="#cacdd1" stroke-width="0.6"/>
<polygon points="373.72,334.28 380.14,306.98 351.23,305.69 333.57,309.71 313.98,314.04 323.61,334.28 328.27,344.23 329.07,373.14 354.12,371.21 358.14,345.84" fill="none" stroke="#5260ac" stroke-width="1.25" stroke-linejoin="miter"/>
<circle cx="373.72" cy="334.28" r="1.1" fill="#5260ac"/>
<circle cx="380.14" cy="306.98" r="1.1" fill="#5260ac"/>
<circle cx="351.23" cy="305.69" r="1.1" fill="#5260ac"/>
<circle cx="333.57" cy="309.71" r="1.1" fill="#5260ac"/>
<circle cx="313.98" cy="314.04" r="1.1" fill="#5260ac"/>
<circle cx="323.61" cy="334.28" r="1.1" fill="#5260ac"/>
<circle cx="328.27" cy="344.23" r="1.1" fill="#5260ac"/>
<circle cx="329.07" cy="373.14" r="1.1" fill="#5260ac"/>
<circle cx="354.12" cy="371.21" r="1.1" fill="#5260ac"/>
<circle cx="358.14" cy="345.84" r="1.1" fill="#5260ac"/>
<polygon points="379.82,334.28 381.26,305.69 352.84,300.07 330.68,301.36 311.09,312.60 305.95,334.28 317.99,351.78 327.95,376.83 355.25,375.07 363.76,350.66" fill="none" stroke="#ee6a30" stroke-width="1.25" stroke-linejoin="miter"/>
<circle cx="379.82" cy="334.28" r="1.1" fill="#ee6a30"/>
<circle cx="381.26" cy="305.69" r="1.1" fill="#ee6a30"/>
<circle cx="352.84" cy="300.07" r="1.1" fill="#ee6a30"/>
<circle cx="330.68" cy="301.36" r="1.1" fill="#ee6a30"/>
<circle cx="311.09" cy="312.60" r="1.1" fill="#ee6a30"/>
<circle cx="305.95" cy="334.28" r="1.1" fill="#ee6a30"/>
<circle cx="317.99" cy="351.78" r="1.1" fill="#ee6a30"/>
<circle cx="327.95" cy="376.83" r="1.1" fill="#ee6a30"/>
<circle cx="355.25" cy="375.07" r="1.1" fill="#ee6a30"/>
<circle cx="363.76" cy="350.66" r="1.1" fill="#ee6a30"/>
<circle cx="341.8" cy="334.3" r="50.3" fill="none" stroke="#333" stroke-width="0.9"/>
<text x="399.3" y="336.71" font-size="6.7" text-anchor="middle" fill="#1a1a1a" stroke="#1a1a1a" stroke-width="0.15">D35</text>
<text x="388.32" y="302.91" font-size="6.7" text-anchor="middle" fill="#1a1a1a" stroke="#1a1a1a" stroke-width="0.15">D36</text>
<text x="359.57" y="282.03" font-size="6.7" text-anchor="middle" fill="#1a1a1a" stroke="#1a1a1a" stroke-width="0.15">D37</text>
<text x="324.03" y="282.03" font-size="6.7" text-anchor="middle" fill="#1a1a1a" stroke="#1a1a1a" stroke-width="0.15">D38</text>
<text x="295.28" y="302.91" font-size="6.7" text-anchor="middle" fill="#1a1a1a" stroke="#1a1a1a" stroke-width="0.15">D39</text>
<text x="284.3" y="336.71" font-size="6.7" text-anchor="middle" fill="#1a1a1a" stroke="#1a1a1a" stroke-width="0.15">D40</text>
<text x="295.28" y="370.51" font-size="6.7" text-anchor="middle" fill="#1a1a1a" stroke="#1a1a1a" stroke-width="0.15">D41</text>
<text x="324.03" y="391.4" font-size="6.7" text-anchor="middle" fill="#1a1a1a" stroke="#1a1a1a" stroke-width="0.15">D42</text>
<text x="359.57" y="391.4" font-size="6.7" text-anchor="middle" fill="#1a1a1a" stroke="#1a1a1a" stroke-width="0.15">D43</text>
<text x="388.32" y="370.51" font-size="6.7" text-anchor="middle" fill="#1a1a1a" stroke="#1a1a1a" stroke-width="0.15">D44</text>
<line x1="363.05" y1="325.5" x2="364.16" y2="325.04" stroke="#555" stroke-width="0.6"/>
<line x1="370.07" y1="322.59" x2="371.18" y2="322.13" stroke="#555" stroke-width="0.6"/>
<line x1="377" y1="319.72" x2="378.11" y2="319.26" stroke="#555" stroke-width="0.6"/>
<line x1="384.58" y1="316.58" x2="385.68" y2="316.12" stroke="#555" stroke-width="0.6"/>
<text x="342.1" y="334.9" font-size="5.0" text-anchor="start" fill="#333" stroke="#333" stroke-width="0.05">0.0</text>
<text x="354.8" y="334.9" font-size="5.0" text-anchor="start" fill="#333" stroke="#333" stroke-width="0.05">0.25</text>
<text x="367.5" y="334.9" font-size="5.0" text-anchor="start" fill="#333" stroke="#333" stroke-width="0.05">0.5</text>
<text x="380.2" y="334.9" font-size="5.0" text-anchor="start" fill="#333" stroke="#333" stroke-width="0.05">0.75</text>
<polygon points="510.01,334.28 512.74,305.69 481.43,309.71 462.64,302.48 446.10,314.53 456.22,334.28 453.65,348.73 461.04,371.85 484.64,369.93 485.45,343.43" fill="#5260ac" fill-opacity="0.13" stroke="none"/>
<polygon points="515.96,334.28 513.23,305.21 481.91,307.62 461.68,299.27 440.96,310.51 442.09,334.28 447.23,353.07 460.07,374.74 485.12,369.12 493.47,349.37" fill="#ee6a30" fill-opacity="0.14" stroke="none"/>
<circle cx="473.3" cy="334.3" r="22.7" fill="none" stroke="#cacdd1" stroke-width="0.6"/>
<circle cx="473.3" cy="334.3" r="30" fill="none" stroke="#cacdd1" stroke-width="0.6"/>
<circle cx="473.3" cy="334.3" r="37.4" fill="none" stroke="#cacdd1" stroke-width="0.6"/>
<circle cx="473.3" cy="334.3" r="45.1" fill="none" stroke="#cacdd1" stroke-width="0.6"/>
<line x1="473.3" y1="334.3" x2="523.6" y2="334.3" stroke="#cacdd1" stroke-width="0.6"/>
<line x1="473.3" y1="334.3" x2="513.99" y2="304.73" stroke="#cacdd1" stroke-width="0.6"/>
<line x1="473.3" y1="334.3" x2="488.84" y2="286.46" stroke="#cacdd1" stroke-width="0.6"/>
<line x1="473.3" y1="334.3" x2="457.76" y2="286.46" stroke="#cacdd1" stroke-width="0.6"/>
<line x1="473.3" y1="334.3" x2="432.61" y2="304.73" stroke="#cacdd1" stroke-width="0.6"/>
<line x1="473.3" y1="334.3" x2="423" y2="334.3" stroke="#cacdd1" stroke-width="0.6"/>
<line x1="473.3" y1="334.3" x2="432.61" y2="363.87" stroke="#cacdd1" stroke-width="0.6"/>
<line x1="473.3" y1="334.3" x2="457.76" y2="382.14" stroke="#cacdd1" stroke-width="0.6"/>
<line x1="473.3" y1="334.3" x2="488.84" y2="382.14" stroke="#cacdd1" stroke-width="0.6"/>
<line x1="473.3" y1="334.3" x2="513.99" y2="363.87" stroke="#cacdd1" stroke-width="0.6"/>
<polygon points="510.01,334.28 512.74,305.69 481.43,309.71 462.64,302.48 446.10,314.53 456.22,334.28 453.65,348.73 461.04,371.85 484.64,369.93 485.45,343.43" fill="none" stroke="#5260ac" stroke-width="1.25" stroke-linejoin="miter"/>
<circle cx="510.01" cy="334.28" r="1.1" fill="#5260ac"/>
<circle cx="512.74" cy="305.69" r="1.1" fill="#5260ac"/>
<circle cx="481.43" cy="309.71" r="1.1" fill="#5260ac"/>
<circle cx="462.64" cy="302.48" r="1.1" fill="#5260ac"/>
<circle cx="446.10" cy="314.53" r="1.1" fill="#5260ac"/>
<circle cx="456.22" cy="334.28" r="1.1" fill="#5260ac"/>
<circle cx="453.65" cy="348.73" r="1.1" fill="#5260ac"/>
<circle cx="461.04" cy="371.85" r="1.1" fill="#5260ac"/>
<circle cx="484.64" cy="369.93" r="1.1" fill="#5260ac"/>
<circle cx="485.45" cy="343.43" r="1.1" fill="#5260ac"/>
<polygon points="515.96,334.28 513.23,305.21 481.91,307.62 461.68,299.27 440.96,310.51 442.09,334.28 447.23,353.07 460.07,374.74 485.12,369.12 493.47,349.37" fill="none" stroke="#ee6a30" stroke-width="1.25" stroke-linejoin="miter"/>
<circle cx="515.96" cy="334.28" r="1.1" fill="#ee6a30"/>
<circle cx="513.23" cy="305.21" r="1.1" fill="#ee6a30"/>
<circle cx="481.91" cy="307.62" r="1.1" fill="#ee6a30"/>
<circle cx="461.68" cy="299.27" r="1.1" fill="#ee6a30"/>
<circle cx="440.96" cy="310.51" r="1.1" fill="#ee6a30"/>
<circle cx="442.09" cy="334.28" r="1.1" fill="#ee6a30"/>
<circle cx="447.23" cy="353.07" r="1.1" fill="#ee6a30"/>
<circle cx="460.07" cy="374.74" r="1.1" fill="#ee6a30"/>
<circle cx="485.12" cy="369.12" r="1.1" fill="#ee6a30"/>
<circle cx="493.47" cy="349.37" r="1.1" fill="#ee6a30"/>
<circle cx="473.3" cy="334.3" r="50.3" fill="none" stroke="#333" stroke-width="0.9"/>
<text x="530.8" y="336.71" font-size="6.7" text-anchor="middle" fill="#1a1a1a" stroke="#1a1a1a" stroke-width="0.15">D35</text>
<text x="519.82" y="302.91" font-size="6.7" text-anchor="middle" fill="#1a1a1a" stroke="#1a1a1a" stroke-width="0.15">D36</text>
<text x="491.07" y="282.03" font-size="6.7" text-anchor="middle" fill="#1a1a1a" stroke="#1a1a1a" stroke-width="0.15">D37</text>
<text x="455.53" y="282.03" font-size="6.7" text-anchor="middle" fill="#1a1a1a" stroke="#1a1a1a" stroke-width="0.15">D38</text>
<text x="426.78" y="302.91" font-size="6.7" text-anchor="middle" fill="#1a1a1a" stroke="#1a1a1a" stroke-width="0.15">D39</text>
<text x="415.8" y="336.71" font-size="6.7" text-anchor="middle" fill="#1a1a1a" stroke="#1a1a1a" stroke-width="0.15">D40</text>
<text x="426.78" y="370.51" font-size="6.7" text-anchor="middle" fill="#1a1a1a" stroke="#1a1a1a" stroke-width="0.15">D41</text>
<text x="455.53" y="391.4" font-size="6.7" text-anchor="middle" fill="#1a1a1a" stroke="#1a1a1a" stroke-width="0.15">D42</text>
<text x="491.07" y="391.4" font-size="6.7" text-anchor="middle" fill="#1a1a1a" stroke="#1a1a1a" stroke-width="0.15">D43</text>
<text x="519.82" y="370.51" font-size="6.7" text-anchor="middle" fill="#1a1a1a" stroke="#1a1a1a" stroke-width="0.15">D44</text>
<line x1="494.55" y1="325.5" x2="495.66" y2="325.04" stroke="#555" stroke-width="0.6"/>
<line x1="501.57" y1="322.59" x2="502.68" y2="322.13" stroke="#555" stroke-width="0.6"/>
<line x1="508.5" y1="319.72" x2="509.61" y2="319.26" stroke="#555" stroke-width="0.6"/>
<line x1="516.08" y1="316.58" x2="517.18" y2="316.12" stroke="#555" stroke-width="0.6"/>
<text x="473.6" y="334.9" font-size="5.0" text-anchor="start" fill="#333" stroke="#333" stroke-width="0.05">0.0</text>
<text x="486.3" y="334.9" font-size="5.0" text-anchor="start" fill="#333" stroke="#333" stroke-width="0.05">0.25</text>
<text x="499" y="334.9" font-size="5.0" text-anchor="start" fill="#333" stroke="#333" stroke-width="0.05">0.5</text>
<text x="511.7" y="334.9" font-size="5.0" text-anchor="start" fill="#333" stroke="#333" stroke-width="0.05">0.75</text>
<polygon points="642.66,334.28 639.93,308.91 611.82,312.60 598.66,315.65 572.48,310.51 585.33,334.28 592.07,343.91 597.37,357.88 613.11,359.17 620.66,345.84" fill="#5260ac" fill-opacity="0.13" stroke="none"/>
<polygon points="648.28,334.28 644.42,305.21 614.23,305.21 594.64,302.80 572.16,310.51 573.28,334.28 577.62,354.19 592.55,372.34 618.73,375.87 640.25,359.81" fill="#ee6a30" fill-opacity="0.14" stroke="none"/>
<circle cx="604.8" cy="334.3" r="22.7" fill="none" stroke="#cacdd1" stroke-width="0.6"/>
<circle cx="604.8" cy="334.3" r="30" fill="none" stroke="#cacdd1" stroke-width="0.6"/>
<circle cx="604.8" cy="334.3" r="37.4" fill="none" stroke="#cacdd1" stroke-width="0.6"/>
<circle cx="604.8" cy="334.3" r="45.1" fill="none" stroke="#cacdd1" stroke-width="0.6"/>
<line x1="604.8" y1="334.3" x2="655.1" y2="334.3" stroke="#cacdd1" stroke-width="0.6"/>
<line x1="604.8" y1="334.3" x2="645.49" y2="304.73" stroke="#cacdd1" stroke-width="0.6"/>
<line x1="604.8" y1="334.3" x2="620.34" y2="286.46" stroke="#cacdd1" stroke-width="0.6"/>
<line x1="604.8" y1="334.3" x2="589.26" y2="286.46" stroke="#cacdd1" stroke-width="0.6"/>
<line x1="604.8" y1="334.3" x2="564.11" y2="304.73" stroke="#cacdd1" stroke-width="0.6"/>
<line x1="604.8" y1="334.3" x2="554.5" y2="334.3" stroke="#cacdd1" stroke-width="0.6"/>
<line x1="604.8" y1="334.3" x2="564.11" y2="363.87" stroke="#cacdd1" stroke-width="0.6"/>
<line x1="604.8" y1="334.3" x2="589.26" y2="382.14" stroke="#cacdd1" stroke-width="0.6"/>
<line x1="604.8" y1="334.3" x2="620.34" y2="382.14" stroke="#cacdd1" stroke-width="0.6"/>
<line x1="604.8" y1="334.3" x2="645.49" y2="363.87" stroke="#cacdd1" stroke-width="0.6"/>
<polygon points="642.66,334.28 639.93,308.91 611.82,312.60 598.66,315.65 572.48,310.51 585.33,334.28 592.07,343.91 597.37,357.88 613.11,359.17 620.66,345.84" fill="none" stroke="#5260ac" stroke-width="1.25" stroke-linejoin="miter"/>
<circle cx="642.66" cy="334.28" r="1.1" fill="#5260ac"/>
<circle cx="639.93" cy="308.91" r="1.1" fill="#5260ac"/>
<circle cx="611.82" cy="312.60" r="1.1" fill="#5260ac"/>
<circle cx="598.66" cy="315.65" r="1.1" fill="#5260ac"/>
<circle cx="572.48" cy="310.51" r="1.1" fill="#5260ac"/>
<circle cx="585.33" cy="334.28" r="1.1" fill="#5260ac"/>
<circle cx="592.07" cy="343.91" r="1.1" fill="#5260ac"/>
<circle cx="597.37" cy="357.88" r="1.1" fill="#5260ac"/>
<circle cx="613.11" cy="359.17" r="1.1" fill="#5260ac"/>
<circle cx="620.66" cy="345.84" r="1.1" fill="#5260ac"/>
<polygon points="648.28,334.28 644.42,305.21 614.23,305.21 594.64,302.80 572.16,310.51 573.28,334.28 577.62,354.19 592.55,372.34 618.73,375.87 640.25,359.81" fill="none" stroke="#ee6a30" stroke-width="1.25" stroke-linejoin="miter"/>
<circle cx="648.28" cy="334.28" r="1.1" fill="#ee6a30"/>
<circle cx="644.42" cy="305.21" r="1.1" fill="#ee6a30"/>
<circle cx="614.23" cy="305.21" r="1.1" fill="#ee6a30"/>
<circle cx="594.64" cy="302.80" r="1.1" fill="#ee6a30"/>
<circle cx="572.16" cy="310.51" r="1.1" fill="#ee6a30"/>
<circle cx="573.28" cy="334.28" r="1.1" fill="#ee6a30"/>
<circle cx="577.62" cy="354.19" r="1.1" fill="#ee6a30"/>
<circle cx="592.55" cy="372.34" r="1.1" fill="#ee6a30"/>
<circle cx="618.73" cy="375.87" r="1.1" fill="#ee6a30"/>
<circle cx="640.25" cy="359.81" r="1.1" fill="#ee6a30"/>
<circle cx="604.8" cy="334.3" r="50.3" fill="none" stroke="#333" stroke-width="0.9"/>
<text x="662.3" y="336.71" font-size="6.7" text-anchor="middle" fill="#1a1a1a" stroke="#1a1a1a" stroke-width="0.15">D35</text>
<text x="651.32" y="302.91" font-size="6.7" text-anchor="middle" fill="#1a1a1a" stroke="#1a1a1a" stroke-width="0.15">D36</text>
<text x="622.57" y="282.03" font-size="6.7" text-anchor="middle" fill="#1a1a1a" stroke="#1a1a1a" stroke-width="0.15">D37</text>
<text x="587.03" y="282.03" font-size="6.7" text-anchor="middle" fill="#1a1a1a" stroke="#1a1a1a" stroke-width="0.15">D38</text>
<text x="558.28" y="302.91" font-size="6.7" text-anchor="middle" fill="#1a1a1a" stroke="#1a1a1a" stroke-width="0.15">D39</text>
<text x="547.3" y="336.71" font-size="6.7" text-anchor="middle" fill="#1a1a1a" stroke="#1a1a1a" stroke-width="0.15">D40</text>
<text x="558.28" y="370.51" font-size="6.7" text-anchor="middle" fill="#1a1a1a" stroke="#1a1a1a" stroke-width="0.15">D41</text>
<text x="587.03" y="391.4" font-size="6.7" text-anchor="middle" fill="#1a1a1a" stroke="#1a1a1a" stroke-width="0.15">D42</text>
<text x="622.57" y="391.4" font-size="6.7" text-anchor="middle" fill="#1a1a1a" stroke="#1a1a1a" stroke-width="0.15">D43</text>
<text x="651.32" y="370.51" font-size="6.7" text-anchor="middle" fill="#1a1a1a" stroke="#1a1a1a" stroke-width="0.15">D44</text>
<line x1="626.05" y1="325.5" x2="627.16" y2="325.04" stroke="#555" stroke-width="0.6"/>
<line x1="633.07" y1="322.59" x2="634.18" y2="322.13" stroke="#555" stroke-width="0.6"/>
<line x1="640" y1="319.72" x2="641.11" y2="319.26" stroke="#555" stroke-width="0.6"/>
<line x1="647.58" y1="316.58" x2="648.68" y2="316.12" stroke="#555" stroke-width="0.6"/>
<text x="605.1" y="334.9" font-size="5.0" text-anchor="start" fill="#333" stroke="#333" stroke-width="0.05">0.0</text>
<text x="617.8" y="334.9" font-size="5.0" text-anchor="start" fill="#333" stroke="#333" stroke-width="0.05">0.25</text>
<text x="630.5" y="334.9" font-size="5.0" text-anchor="start" fill="#333" stroke="#333" stroke-width="0.05">0.5</text>
<text x="643.2" y="334.9" font-size="5.0" text-anchor="start" fill="#333" stroke="#333" stroke-width="0.05">0.75</text>
<polygon points="115.21,466.28 78.92,466.12 85.82,444.92 72.98,448.93 48.89,444.92 49.37,466.28 64.15,477.52 70.25,492.29 89.52,499.84 105.09,485.87" fill="#5260ac" fill-opacity="0.13" stroke="none"/>
<polygon points="121.96,466.28 117.94,438.01 87.91,438.18 68.64,434.80 46.96,443.64 42.15,466.28 49.21,487.15 65.43,505.94 91.93,506.74 115.53,492.29" fill="#ee6a30" fill-opacity="0.14" stroke="none"/>
<circle cx="78.7" cy="466.4" r="22.7" fill="none" stroke="#cacdd1" stroke-width="0.6"/>
<circle cx="78.7" cy="466.4" r="30" fill="none" stroke="#cacdd1" stroke-width="0.6"/>
<circle cx="78.7" cy="466.4" r="37.4" fill="none" stroke="#cacdd1" stroke-width="0.6"/>
<circle cx="78.7" cy="466.4" r="45.1" fill="none" stroke="#cacdd1" stroke-width="0.6"/>
<line x1="78.7" y1="466.4" x2="129" y2="466.4" stroke="#cacdd1" stroke-width="0.6"/>
<line x1="78.7" y1="466.4" x2="119.39" y2="436.83" stroke="#cacdd1" stroke-width="0.6"/>
<line x1="78.7" y1="466.4" x2="94.24" y2="418.56" stroke="#cacdd1" stroke-width="0.6"/>
<line x1="78.7" y1="466.4" x2="63.16" y2="418.56" stroke="#cacdd1" stroke-width="0.6"/>
<line x1="78.7" y1="466.4" x2="38.01" y2="436.83" stroke="#cacdd1" stroke-width="0.6"/>
<line x1="78.7" y1="466.4" x2="28.4" y2="466.4" stroke="#cacdd1" stroke-width="0.6"/>
<line x1="78.7" y1="466.4" x2="38.01" y2="495.97" stroke="#cacdd1" stroke-width="0.6"/>
<line x1="78.7" y1="466.4" x2="63.16" y2="514.24" stroke="#cacdd1" stroke-width="0.6"/>
<line x1="78.7" y1="466.4" x2="94.24" y2="514.24" stroke="#cacdd1" stroke-width="0.6"/>
<line x1="78.7" y1="466.4" x2="119.39" y2="495.97" stroke="#cacdd1" stroke-width="0.6"/>
<polygon points="115.21,466.28 78.92,466.12 85.82,444.92 72.98,448.93 48.89,444.92 49.37,466.28 64.15,477.52 70.25,492.29 89.52,499.84 105.09,485.87" fill="none" stroke="#5260ac" stroke-width="1.25" stroke-linejoin="miter"/>
<circle cx="115.21" cy="466.28" r="1.1" fill="#5260ac"/>
<circle cx="78.92" cy="466.12" r="1.1" fill="#5260ac"/>
<circle cx="85.82" cy="444.92" r="1.1" fill="#5260ac"/>
<circle cx="72.98" cy="448.93" r="1.1" fill="#5260ac"/>
<circle cx="48.89" cy="444.92" r="1.1" fill="#5260ac"/>
<circle cx="49.37" cy="466.28" r="1.1" fill="#5260ac"/>
<circle cx="64.15" cy="477.52" r="1.1" fill="#5260ac"/>
<circle cx="70.25" cy="492.29" r="1.1" fill="#5260ac"/>
<circle cx="89.52" cy="499.84" r="1.1" fill="#5260ac"/>
<circle cx="105.09" cy="485.87" r="1.1" fill="#5260ac"/>
<polygon points="121.96,466.28 117.94,438.01 87.91,438.18 68.64,434.80 46.96,443.64 42.15,466.28 49.21,487.15 65.43,505.94 91.93,506.74 115.53,492.29" fill="none" stroke="#ee6a30" stroke-width="1.25" stroke-linejoin="miter"/>
<circle cx="121.96" cy="466.28" r="1.1" fill="#ee6a30"/>
<circle cx="117.94" cy="438.01" r="1.1" fill="#ee6a30"/>
<circle cx="87.91" cy="438.18" r="1.1" fill="#ee6a30"/>
<circle cx="68.64" cy="434.80" r="1.1" fill="#ee6a30"/>
<circle cx="46.96" cy="443.64" r="1.1" fill="#ee6a30"/>
<circle cx="42.15" cy="466.28" r="1.1" fill="#ee6a30"/>
<circle cx="49.21" cy="487.15" r="1.1" fill="#ee6a30"/>
<circle cx="65.43" cy="505.94" r="1.1" fill="#ee6a30"/>
<circle cx="91.93" cy="506.74" r="1.1" fill="#ee6a30"/>
<circle cx="115.53" cy="492.29" r="1.1" fill="#ee6a30"/>
<circle cx="78.7" cy="466.4" r="50.3" fill="none" stroke="#333" stroke-width="0.9"/>
<text x="136.2" y="468.81" font-size="6.7" text-anchor="middle" fill="#1a1a1a" stroke="#1a1a1a" stroke-width="0.15">D35</text>
<text x="125.22" y="435.01" font-size="6.7" text-anchor="middle" fill="#1a1a1a" stroke="#1a1a1a" stroke-width="0.15">D36</text>
<text x="96.47" y="414.13" font-size="6.7" text-anchor="middle" fill="#1a1a1a" stroke="#1a1a1a" stroke-width="0.15">D37</text>
<text x="60.93" y="414.13" font-size="6.7" text-anchor="middle" fill="#1a1a1a" stroke="#1a1a1a" stroke-width="0.15">D38</text>
<text x="32.18" y="435.01" font-size="6.7" text-anchor="middle" fill="#1a1a1a" stroke="#1a1a1a" stroke-width="0.15">D39</text>
<text x="21.2" y="468.81" font-size="6.7" text-anchor="middle" fill="#1a1a1a" stroke="#1a1a1a" stroke-width="0.15">D40</text>
<text x="32.18" y="502.61" font-size="6.7" text-anchor="middle" fill="#1a1a1a" stroke="#1a1a1a" stroke-width="0.15">D41</text>
<text x="60.93" y="523.5" font-size="6.7" text-anchor="middle" fill="#1a1a1a" stroke="#1a1a1a" stroke-width="0.15">D42</text>
<text x="96.47" y="523.5" font-size="6.7" text-anchor="middle" fill="#1a1a1a" stroke="#1a1a1a" stroke-width="0.15">D43</text>
<text x="125.22" y="502.61" font-size="6.7" text-anchor="middle" fill="#1a1a1a" stroke="#1a1a1a" stroke-width="0.15">D44</text>
<line x1="99.95" y1="457.6" x2="101.06" y2="457.14" stroke="#555" stroke-width="0.6"/>
<line x1="106.97" y1="454.69" x2="108.08" y2="454.23" stroke="#555" stroke-width="0.6"/>
<line x1="113.9" y1="451.82" x2="115.01" y2="451.36" stroke="#555" stroke-width="0.6"/>
<line x1="121.48" y1="448.68" x2="122.58" y2="448.22" stroke="#555" stroke-width="0.6"/>
<text x="79" y="467" font-size="5.0" text-anchor="start" fill="#333" stroke="#333" stroke-width="0.05">0.0</text>
<text x="91.7" y="467" font-size="5.0" text-anchor="start" fill="#333" stroke="#333" stroke-width="0.05">0.25</text>
<text x="104.4" y="467" font-size="5.0" text-anchor="start" fill="#333" stroke="#333" stroke-width="0.05">0.5</text>
<text x="117.1" y="467" font-size="5.0" text-anchor="start" fill="#333" stroke="#333" stroke-width="0.05">0.75</text>
<polygon points="234.01,466.28 247.01,439.62 217.63,444.60 202.37,441.71 187.60,450.06 195.95,466.28 189.04,482.18 197.55,505.62 220.84,498.72 244.12,491.01" fill="#5260ac" fill-opacity="0.13" stroke="none"/>
<polygon points="248.14,466.28 249.74,437.69 219.23,438.01 199.96,434.16 178.28,443.31 179.09,466.28 181.98,487.15 197.07,507.87 222.45,503.85 241.23,489.08" fill="#ee6a30" fill-opacity="0.14" stroke="none"/>
<circle cx="210.3" cy="466.4" r="22.7" fill="none" stroke="#cacdd1" stroke-width="0.6"/>
<circle cx="210.3" cy="466.4" r="30" fill="none" stroke="#cacdd1" stroke-width="0.6"/>
<circle cx="210.3" cy="466.4" r="37.4" fill="none" stroke="#cacdd1" stroke-width="0.6"/>
<circle cx="210.3" cy="466.4" r="45.1" fill="none" stroke="#cacdd1" stroke-width="0.6"/>
<line x1="210.3" y1="466.4" x2="260.6" y2="466.4" stroke="#cacdd1" stroke-width="0.6"/>
<line x1="210.3" y1="466.4" x2="250.99" y2="436.83" stroke="#cacdd1" stroke-width="0.6"/>
<line x1="210.3" y1="466.4" x2="225.84" y2="418.56" stroke="#cacdd1" stroke-width="0.6"/>
<line x1="210.3" y1="466.4" x2="194.76" y2="418.56" stroke="#cacdd1" stroke-width="0.6"/>
<line x1="210.3" y1="466.4" x2="169.61" y2="436.83" stroke="#cacdd1" stroke-width="0.6"/>
<line x1="210.3" y1="466.4" x2="160" y2="466.4" stroke="#cacdd1" stroke-width="0.6"/>
<line x1="210.3" y1="466.4" x2="169.61" y2="495.97" stroke="#cacdd1" stroke-width="0.6"/>
<line x1="210.3" y1="466.4" x2="194.76" y2="514.24" stroke="#cacdd1" stroke-width="0.6"/>
<line x1="210.3" y1="466.4" x2="225.84" y2="514.24" stroke="#cacdd1" stroke-width="0.6"/>
<line x1="210.3" y1="466.4" x2="250.99" y2="495.97" stroke="#cacdd1" stroke-width="0.6"/>
<polygon points="234.01,466.28 247.01,439.62 217.63,444.60 202.37,441.71 187.60,450.06 195.95,466.28 189.04,482.18 197.55,505.62 220.84,498.72 244.12,491.01" fill="none" stroke="#5260ac" stroke-width="1.25" stroke-linejoin="miter"/>
<circle cx="234.01" cy="466.28" r="1.1" fill="#5260ac"/>
<circle cx="247.01" cy="439.62" r="1.1" fill="#5260ac"/>
<circle cx="217.63" cy="444.60" r="1.1" fill="#5260ac"/>
<circle cx="202.37" cy="441.71" r="1.1" fill="#5260ac"/>
<circle cx="187.60" cy="450.06" r="1.1" fill="#5260ac"/>
<circle cx="195.95" cy="466.28" r="1.1" fill="#5260ac"/>
<circle cx="189.04" cy="482.18" r="1.1" fill="#5260ac"/>
<circle cx="197.55" cy="505.62" r="1.1" fill="#5260ac"/>
<circle cx="220.84" cy="498.72" r="1.1" fill="#5260ac"/>
<circle cx="244.12" cy="491.01" r="1.1" fill="#5260ac"/>
<polygon points="248.14,466.28 249.74,437.69 219.23,438.01 199.96,434.16 178.28,443.31 179.09,466.28 181.98,487.15 197.07,507.87 222.45,503.85 241.23,489.08" fill="none" stroke="#ee6a30" stroke-width="1.25" stroke-linejoin="miter"/>
<circle cx="248.14" cy="466.28" r="1.1" fill="#ee6a30"/>
<circle cx="249.74" cy="437.69" r="1.1" fill="#ee6a30"/>
<circle cx="219.23" cy="438.01" r="1.1" fill="#ee6a30"/>
<circle cx="199.96" cy="434.16" r="1.1" fill="#ee6a30"/>
<circle cx="178.28" cy="443.31" r="1.1" fill="#ee6a30"/>
<circle cx="179.09" cy="466.28" r="1.1" fill="#ee6a30"/>
<circle cx="181.98" cy="487.15" r="1.1" fill="#ee6a30"/>
<circle cx="197.07" cy="507.87" r="1.1" fill="#ee6a30"/>
<circle cx="222.45" cy="503.85" r="1.1" fill="#ee6a30"/>
<circle cx="241.23" cy="489.08" r="1.1" fill="#ee6a30"/>
<circle cx="210.3" cy="466.4" r="50.3" fill="none" stroke="#333" stroke-width="0.9"/>
<text x="267.8" y="468.81" font-size="6.7" text-anchor="middle" fill="#1a1a1a" stroke="#1a1a1a" stroke-width="0.15">D35</text>
<text x="256.82" y="435.01" font-size="6.7" text-anchor="middle" fill="#1a1a1a" stroke="#1a1a1a" stroke-width="0.15">D36</text>
<text x="228.07" y="414.13" font-size="6.7" text-anchor="middle" fill="#1a1a1a" stroke="#1a1a1a" stroke-width="0.15">D37</text>
<text x="192.53" y="414.13" font-size="6.7" text-anchor="middle" fill="#1a1a1a" stroke="#1a1a1a" stroke-width="0.15">D38</text>
<text x="163.78" y="435.01" font-size="6.7" text-anchor="middle" fill="#1a1a1a" stroke="#1a1a1a" stroke-width="0.15">D39</text>
<text x="152.8" y="468.81" font-size="6.7" text-anchor="middle" fill="#1a1a1a" stroke="#1a1a1a" stroke-width="0.15">D40</text>
<text x="163.78" y="502.61" font-size="6.7" text-anchor="middle" fill="#1a1a1a" stroke="#1a1a1a" stroke-width="0.15">D41</text>
<text x="192.53" y="523.5" font-size="6.7" text-anchor="middle" fill="#1a1a1a" stroke="#1a1a1a" stroke-width="0.15">D42</text>
<text x="228.07" y="523.5" font-size="6.7" text-anchor="middle" fill="#1a1a1a" stroke="#1a1a1a" stroke-width="0.15">D43</text>
<text x="256.82" y="502.61" font-size="6.7" text-anchor="middle" fill="#1a1a1a" stroke="#1a1a1a" stroke-width="0.15">D44</text>
<line x1="231.55" y1="457.6" x2="232.66" y2="457.14" stroke="#555" stroke-width="0.6"/>
<line x1="238.57" y1="454.69" x2="239.68" y2="454.23" stroke="#555" stroke-width="0.6"/>
<line x1="245.5" y1="451.82" x2="246.61" y2="451.36" stroke="#555" stroke-width="0.6"/>
<line x1="253.08" y1="448.68" x2="254.18" y2="448.22" stroke="#555" stroke-width="0.6"/>
<text x="210.6" y="467" font-size="5.0" text-anchor="start" fill="#333" stroke="#333" stroke-width="0.05">0.0</text>
<text x="223.3" y="467" font-size="5.0" text-anchor="start" fill="#333" stroke="#333" stroke-width="0.05">0.25</text>
<text x="236" y="467" font-size="5.0" text-anchor="start" fill="#333" stroke="#333" stroke-width="0.05">0.5</text>
<text x="248.7" y="467" font-size="5.0" text-anchor="start" fill="#333" stroke="#333" stroke-width="0.05">0.75</text>
<polygon points="372.11,466.28 379.01,439.62 347.54,450.06 334.05,442.51 327.63,455.84 323.61,466.28 324.42,479.45 327.95,509.15 353.32,503.05 369.22,486.67" fill="#5260ac" fill-opacity="0.13" stroke="none"/>
<polygon points="379.82,466.28 381.26,437.69 350.91,438.82 331.96,435.28 312.37,445.40 310.77,466.28 314.30,486.67 327.15,508.35 354.93,506.42 379.01,493.90" fill="#ee6a30" fill-opacity="0.14" stroke="none"/>
<circle cx="341.8" cy="466.4" r="22.7" fill="none" stroke="#cacdd1" stroke-width="0.6"/>
<circle cx="341.8" cy="466.4" r="30" fill="none" stroke="#cacdd1" stroke-width="0.6"/>
<circle cx="341.8" cy="466.4" r="37.4" fill="none" stroke="#cacdd1" stroke-width="0.6"/>
<circle cx="341.8" cy="466.4" r="45.1" fill="none" stroke="#cacdd1" stroke-width="0.6"/>
<line x1="341.8" y1="466.4" x2="392.1" y2="466.4" stroke="#cacdd1" stroke-width="0.6"/>
<line x1="341.8" y1="466.4" x2="382.49" y2="436.83" stroke="#cacdd1" stroke-width="0.6"/>
<line x1="341.8" y1="466.4" x2="357.34" y2="418.56" stroke="#cacdd1" stroke-width="0.6"/>
<line x1="341.8" y1="466.4" x2="326.26" y2="418.56" stroke="#cacdd1" stroke-width="0.6"/>
<line x1="341.8" y1="466.4" x2="301.11" y2="436.83" stroke="#cacdd1" stroke-width="0.6"/>
<line x1="341.8" y1="466.4" x2="291.5" y2="466.4" stroke="#cacdd1" stroke-width="0.6"/>
<line x1="341.8" y1="466.4" x2="301.11" y2="495.97" stroke="#cacdd1" stroke-width="0.6"/>
<line x1="341.8" y1="466.4" x2="326.26" y2="514.24" stroke="#cacdd1" stroke-width="0.6"/>
<line x1="341.8" y1="466.4" x2="357.34" y2="514.24" stroke="#cacdd1" stroke-width="0.6"/>
<line x1="341.8" y1="466.4" x2="382.49" y2="495.97" stroke="#cacdd1" stroke-width="0.6"/>
<polygon points="372.11,466.28 379.01,439.62 347.54,450.06 334.05,442.51 327.63,455.84 323.61,466.28 324.42,479.45 327.95,509.15 353.32,503.05 369.22,486.67" fill="none" stroke="#5260ac" stroke-width="1.25" stroke-linejoin="miter"/>
<circle cx="372.11" cy="466.28" r="1.1" fill="#5260ac"/>
<circle cx="379.01" cy="439.62" r="1.1" fill="#5260ac"/>
<circle cx="347.54" cy="450.06" r="1.1" fill="#5260ac"/>
<circle cx="334.05" cy="442.51" r="1.1" fill="#5260ac"/>
<circle cx="327.63" cy="455.84" r="1.1" fill="#5260ac"/>
<circle cx="323.61" cy="466.28" r="1.1" fill="#5260ac"/>
<circle cx="324.42" cy="479.45" r="1.1" fill="#5260ac"/>
<circle cx="327.95" cy="509.15" r="1.1" fill="#5260ac"/>
<circle cx="353.32" cy="503.05" r="1.1" fill="#5260ac"/>
<circle cx="369.22" cy="486.67" r="1.1" fill="#5260ac"/>
<polygon points="379.82,466.28 381.26,437.69 350.91,438.82 331.96,435.28 312.37,445.40 310.77,466.28 314.30,486.67 327.15,508.35 354.93,506.42 379.01,493.90" fill="none" stroke="#ee6a30" stroke-width="1.25" stroke-linejoin="miter"/>
<circle cx="379.82" cy="466.28" r="1.1" fill="#ee6a30"/>
<circle cx="381.26" cy="437.69" r="1.1" fill="#ee6a30"/>
<circle cx="350.91" cy="438.82" r="1.1" fill="#ee6a30"/>
<circle cx="331.96" cy="435.28" r="1.1" fill="#ee6a30"/>
<circle cx="312.37" cy="445.40" r="1.1" fill="#ee6a30"/>
<circle cx="310.77" cy="466.28" r="1.1" fill="#ee6a30"/>
<circle cx="314.30" cy="486.67" r="1.1" fill="#ee6a30"/>
<circle cx="327.15" cy="508.35" r="1.1" fill="#ee6a30"/>
<circle cx="354.93" cy="506.42" r="1.1" fill="#ee6a30"/>
<circle cx="379.01" cy="493.90" r="1.1" fill="#ee6a30"/>
<circle cx="341.8" cy="466.4" r="50.3" fill="none" stroke="#333" stroke-width="0.9"/>
<text x="399.3" y="468.81" font-size="6.7" text-anchor="middle" fill="#1a1a1a" stroke="#1a1a1a" stroke-width="0.15">D35</text>
<text x="388.32" y="435.01" font-size="6.7" text-anchor="middle" fill="#1a1a1a" stroke="#1a1a1a" stroke-width="0.15">D36</text>
<text x="359.57" y="414.13" font-size="6.7" text-anchor="middle" fill="#1a1a1a" stroke="#1a1a1a" stroke-width="0.15">D37</text>
<text x="324.03" y="414.13" font-size="6.7" text-anchor="middle" fill="#1a1a1a" stroke="#1a1a1a" stroke-width="0.15">D38</text>
<text x="295.28" y="435.01" font-size="6.7" text-anchor="middle" fill="#1a1a1a" stroke="#1a1a1a" stroke-width="0.15">D39</text>
<text x="284.3" y="468.81" font-size="6.7" text-anchor="middle" fill="#1a1a1a" stroke="#1a1a1a" stroke-width="0.15">D40</text>
<text x="295.28" y="502.61" font-size="6.7" text-anchor="middle" fill="#1a1a1a" stroke="#1a1a1a" stroke-width="0.15">D41</text>
<text x="324.03" y="523.5" font-size="6.7" text-anchor="middle" fill="#1a1a1a" stroke="#1a1a1a" stroke-width="0.15">D42</text>
<text x="359.57" y="523.5" font-size="6.7" text-anchor="middle" fill="#1a1a1a" stroke="#1a1a1a" stroke-width="0.15">D43</text>
<text x="388.32" y="502.61" font-size="6.7" text-anchor="middle" fill="#1a1a1a" stroke="#1a1a1a" stroke-width="0.15">D44</text>
<line x1="363.05" y1="457.6" x2="364.16" y2="457.14" stroke="#555" stroke-width="0.6"/>
<line x1="370.07" y1="454.69" x2="371.18" y2="454.23" stroke="#555" stroke-width="0.6"/>
<line x1="377" y1="451.82" x2="378.11" y2="451.36" stroke="#555" stroke-width="0.6"/>
<line x1="384.58" y1="448.68" x2="385.68" y2="448.22" stroke="#555" stroke-width="0.6"/>
<text x="342.1" y="467" font-size="5.0" text-anchor="start" fill="#333" stroke="#333" stroke-width="0.05">0.0</text>
<text x="354.8" y="467" font-size="5.0" text-anchor="start" fill="#333" stroke="#333" stroke-width="0.05">0.25</text>
<text x="367.5" y="467" font-size="5.0" text-anchor="start" fill="#333" stroke="#333" stroke-width="0.05">0.5</text>
<text x="380.2" y="467" font-size="5.0" text-anchor="start" fill="#333" stroke="#333" stroke-width="0.05">0.75</text>
<polygon points="492.67,466.28 511.46,438.98 478.70,450.06 466.18,445.40 463.77,459.69 464.57,466.28 461.04,475.43 461.04,505.14 485.93,504.82 499.09,485.39" fill="#5260ac" fill-opacity="0.13" stroke="none"/>
<polygon points="513.87,466.28 512.26,438.01 482.55,437.69 463.28,434.80 441.61,443.80 442.57,466.28 445.30,486.99 460.07,507.55 487.53,511.08 510.34,493.58" fill="#ee6a30" fill-opacity="0.14" stroke="none"/>
<circle cx="473.3" cy="466.4" r="22.7" fill="none" stroke="#cacdd1" stroke-width="0.6"/>
<circle cx="473.3" cy="466.4" r="30" fill="none" stroke="#cacdd1" stroke-width="0.6"/>
<circle cx="473.3" cy="466.4" r="37.4" fill="none" stroke="#cacdd1" stroke-width="0.6"/>
<circle cx="473.3" cy="466.4" r="45.1" fill="none" stroke="#cacdd1" stroke-width="0.6"/>
<line x1="473.3" y1="466.4" x2="523.6" y2="466.4" stroke="#cacdd1" stroke-width="0.6"/>
<line x1="473.3" y1="466.4" x2="513.99" y2="436.83" stroke="#cacdd1" stroke-width="0.6"/>
<line x1="473.3" y1="466.4" x2="488.84" y2="418.56" stroke="#cacdd1" stroke-width="0.6"/>
<line x1="473.3" y1="466.4" x2="457.76" y2="418.56" stroke="#cacdd1" stroke-width="0.6"/>
<line x1="473.3" y1="466.4" x2="432.61" y2="436.83" stroke="#cacdd1" stroke-width="0.6"/>
<line x1="473.3" y1="466.4" x2="423" y2="466.4" stroke="#cacdd1" stroke-width="0.6"/>
<line x1="473.3" y1="466.4" x2="432.61" y2="495.97" stroke="#cacdd1" stroke-width="0.6"/>
<line x1="473.3" y1="466.4" x2="457.76" y2="514.24" stroke="#cacdd1" stroke-width="0.6"/>
<line x1="473.3" y1="466.4" x2="488.84" y2="514.24" stroke="#cacdd1" stroke-width="0.6"/>
<line x1="473.3" y1="466.4" x2="513.99" y2="495.97" stroke="#cacdd1" stroke-width="0.6"/>
<polygon points="492.67,466.28 511.46,438.98 478.70,450.06 466.18,445.40 463.77,459.69 464.57,466.28 461.04,475.43 461.04,505.14 485.93,504.82 499.09,485.39" fill="none" stroke="#5260ac" stroke-width="1.25" stroke-linejoin="miter"/>
<circle cx="492.67" cy="466.28" r="1.1" fill="#5260ac"/>
<circle cx="511.46" cy="438.98" r="1.1" fill="#5260ac"/>
<circle cx="478.70" cy="450.06" r="1.1" fill="#5260ac"/>
<circle cx="466.18" cy="445.40" r="1.1" fill="#5260ac"/>
<circle cx="463.77" cy="459.69" r="1.1" fill="#5260ac"/>
<circle cx="464.57" cy="466.28" r="1.1" fill="#5260ac"/>
<circle cx="461.04" cy="475.43" r="1.1" fill="#5260ac"/>
<circle cx="461.04" cy="505.14" r="1.1" fill="#5260ac"/>
<circle cx="485.93" cy="504.82" r="1.1" fill="#5260ac"/>
<circle cx="499.09" cy="485.39" r="1.1" fill="#5260ac"/>
<polygon points="513.87,466.28 512.26,438.01 482.55,437.69 463.28,434.80 441.61,443.80 442.57,466.28 445.30,486.99 460.07,507.55 487.53,511.08 510.34,493.58" fill="none" stroke="#ee6a30" stroke-width="1.25" stroke-linejoin="miter"/>
<circle cx="513.87" cy="466.28" r="1.1" fill="#ee6a30"/>
<circle cx="512.26" cy="438.01" r="1.1" fill="#ee6a30"/>
<circle cx="482.55" cy="437.69" r="1.1" fill="#ee6a30"/>
<circle cx="463.28" cy="434.80" r="1.1" fill="#ee6a30"/>
<circle cx="441.61" cy="443.80" r="1.1" fill="#ee6a30"/>
<circle cx="442.57" cy="466.28" r="1.1" fill="#ee6a30"/>
<circle cx="445.30" cy="486.99" r="1.1" fill="#ee6a30"/>
<circle cx="460.07" cy="507.55" r="1.1" fill="#ee6a30"/>
<circle cx="487.53" cy="511.08" r="1.1" fill="#ee6a30"/>
<circle cx="510.34" cy="493.58" r="1.1" fill="#ee6a30"/>
<circle cx="473.3" cy="466.4" r="50.3" fill="none" stroke="#333" stroke-width="0.9"/>
<text x="530.8" y="468.81" font-size="6.7" text-anchor="middle" fill="#1a1a1a" stroke="#1a1a1a" stroke-width="0.15">D35</text>
<text x="519.82" y="435.01" font-size="6.7" text-anchor="middle" fill="#1a1a1a" stroke="#1a1a1a" stroke-width="0.15">D36</text>
<text x="491.07" y="414.13" font-size="6.7" text-anchor="middle" fill="#1a1a1a" stroke="#1a1a1a" stroke-width="0.15">D37</text>
<text x="455.53" y="414.13" font-size="6.7" text-anchor="middle" fill="#1a1a1a" stroke="#1a1a1a" stroke-width="0.15">D38</text>
<text x="426.78" y="435.01" font-size="6.7" text-anchor="middle" fill="#1a1a1a" stroke="#1a1a1a" stroke-width="0.15">D39</text>
<text x="415.8" y="468.81" font-size="6.7" text-anchor="middle" fill="#1a1a1a" stroke="#1a1a1a" stroke-width="0.15">D40</text>
<text x="426.78" y="502.61" font-size="6.7" text-anchor="middle" fill="#1a1a1a" stroke="#1a1a1a" stroke-width="0.15">D41</text>
<text x="455.53" y="523.5" font-size="6.7" text-anchor="middle" fill="#1a1a1a" stroke="#1a1a1a" stroke-width="0.15">D42</text>
<text x="491.07" y="523.5" font-size="6.7" text-anchor="middle" fill="#1a1a1a" stroke="#1a1a1a" stroke-width="0.15">D43</text>
<text x="519.82" y="502.61" font-size="6.7" text-anchor="middle" fill="#1a1a1a" stroke="#1a1a1a" stroke-width="0.15">D44</text>
<line x1="494.55" y1="457.6" x2="495.66" y2="457.14" stroke="#555" stroke-width="0.6"/>
<line x1="501.57" y1="454.69" x2="502.68" y2="454.23" stroke="#555" stroke-width="0.6"/>
<line x1="508.5" y1="451.82" x2="509.61" y2="451.36" stroke="#555" stroke-width="0.6"/>
<line x1="516.08" y1="448.68" x2="517.18" y2="448.22" stroke="#555" stroke-width="0.6"/>
<text x="473.6" y="467" font-size="5.0" text-anchor="start" fill="#333" stroke="#333" stroke-width="0.05">0.0</text>
<text x="486.3" y="467" font-size="5.0" text-anchor="start" fill="#333" stroke="#333" stroke-width="0.05">0.25</text>
<text x="499" y="467" font-size="5.0" text-anchor="start" fill="#333" stroke="#333" stroke-width="0.05">0.5</text>
<text x="511.7" y="467" font-size="5.0" text-anchor="start" fill="#333" stroke="#333" stroke-width="0.05">0.75</text>
<polygon points="626.76,466.28 615.04,458.57 610.70,448.93 599.78,451.02 578.91,447.81 588.86,466.28 589.02,477.84 596.57,491.81 609.42,481.05 643.62,495.02" fill="#5260ac" fill-opacity="0.13" stroke="none"/>
<polygon points="645.87,466.28 641.53,440.58 614.23,438.18 594.96,436.09 572.48,442.83 573.28,466.28 576.82,486.67 591.43,508.03 618.73,508.83 643.62,495.02" fill="#ee6a30" fill-opacity="0.14" stroke="none"/>
<circle cx="604.8" cy="466.4" r="22.7" fill="none" stroke="#cacdd1" stroke-width="0.6"/>
<circle cx="604.8" cy="466.4" r="30" fill="none" stroke="#cacdd1" stroke-width="0.6"/>
<circle cx="604.8" cy="466.4" r="37.4" fill="none" stroke="#cacdd1" stroke-width="0.6"/>
<circle cx="604.8" cy="466.4" r="45.1" fill="none" stroke="#cacdd1" stroke-width="0.6"/>
<line x1="604.8" y1="466.4" x2="655.1" y2="466.4" stroke="#cacdd1" stroke-width="0.6"/>
<line x1="604.8" y1="466.4" x2="645.49" y2="436.83" stroke="#cacdd1" stroke-width="0.6"/>
<line x1="604.8" y1="466.4" x2="620.34" y2="418.56" stroke="#cacdd1" stroke-width="0.6"/>
<line x1="604.8" y1="466.4" x2="589.26" y2="418.56" stroke="#cacdd1" stroke-width="0.6"/>
<line x1="604.8" y1="466.4" x2="564.11" y2="436.83" stroke="#cacdd1" stroke-width="0.6"/>
<line x1="604.8" y1="466.4" x2="554.5" y2="466.4" stroke="#cacdd1" stroke-width="0.6"/>
<line x1="604.8" y1="466.4" x2="564.11" y2="495.97" stroke="#cacdd1" stroke-width="0.6"/>
<line x1="604.8" y1="466.4" x2="589.26" y2="514.24" stroke="#cacdd1" stroke-width="0.6"/>
<line x1="604.8" y1="466.4" x2="620.34" y2="514.24" stroke="#cacdd1" stroke-width="0.6"/>
<line x1="604.8" y1="466.4" x2="645.49" y2="495.97" stroke="#cacdd1" stroke-width="0.6"/>
<polygon points="626.76,466.28 615.04,458.57 610.70,448.93 599.78,451.02 578.91,447.81 588.86,466.28 589.02,477.84 596.57,491.81 609.42,481.05 643.62,495.02" fill="none" stroke="#5260ac" stroke-width="1.25" stroke-linejoin="miter"/>
<circle cx="626.76" cy="466.28" r="1.1" fill="#5260ac"/>
<circle cx="615.04" cy="458.57" r="1.1" fill="#5260ac"/>
<circle cx="610.70" cy="448.93" r="1.1" fill="#5260ac"/>
<circle cx="599.78" cy="451.02" r="1.1" fill="#5260ac"/>
<circle cx="578.91" cy="447.81" r="1.1" fill="#5260ac"/>
<circle cx="588.86" cy="466.28" r="1.1" fill="#5260ac"/>
<circle cx="589.02" cy="477.84" r="1.1" fill="#5260ac"/>
<circle cx="596.57" cy="491.81" r="1.1" fill="#5260ac"/>
<circle cx="609.42" cy="481.05" r="1.1" fill="#5260ac"/>
<circle cx="643.62" cy="495.02" r="1.1" fill="#5260ac"/>
<polygon points="645.87,466.28 641.53,440.58 614.23,438.18 594.96,436.09 572.48,442.83 573.28,466.28 576.82,486.67 591.43,508.03 618.73,508.83 643.62,495.02" fill="none" stroke="#ee6a30" stroke-width="1.25" stroke-linejoin="miter"/>
<circle cx="645.87" cy="466.28" r="1.1" fill="#ee6a30"/>
<circle cx="641.53" cy="440.58" r="1.1" fill="#ee6a30"/>
<circle cx="614.23" cy="438.18" r="1.1" fill="#ee6a30"/>
<circle cx="594.96" cy="436.09" r="1.1" fill="#ee6a30"/>
<circle cx="572.48" cy="442.83" r="1.1" fill="#ee6a30"/>
<circle cx="573.28" cy="466.28" r="1.1" fill="#ee6a30"/>
<circle cx="576.82" cy="486.67" r="1.1" fill="#ee6a30"/>
<circle cx="591.43" cy="508.03" r="1.1" fill="#ee6a30"/>
<circle cx="618.73" cy="508.83" r="1.1" fill="#ee6a30"/>
<circle cx="643.62" cy="495.02" r="1.1" fill="#ee6a30"/>
<circle cx="604.8" cy="466.4" r="50.3" fill="none" stroke="#333" stroke-width="0.9"/>
<text x="662.3" y="468.81" font-size="6.7" text-anchor="middle" fill="#1a1a1a" stroke="#1a1a1a" stroke-width="0.15">D35</text>
<text x="651.32" y="435.01" font-size="6.7" text-anchor="middle" fill="#1a1a1a" stroke="#1a1a1a" stroke-width="0.15">D36</text>
<text x="622.57" y="414.13" font-size="6.7" text-anchor="middle" fill="#1a1a1a" stroke="#1a1a1a" stroke-width="0.15">D37</text>
<text x="587.03" y="414.13" font-size="6.7" text-anchor="middle" fill="#1a1a1a" stroke="#1a1a1a" stroke-width="0.15">D38</text>
<text x="558.28" y="435.01" font-size="6.7" text-anchor="middle" fill="#1a1a1a" stroke="#1a1a1a" stroke-width="0.15">D39</text>
<text x="547.3" y="468.81" font-size="6.7" text-anchor="middle" fill="#1a1a1a" stroke="#1a1a1a" stroke-width="0.15">D40</text>
<text x="558.28" y="502.61" font-size="6.7" text-anchor="middle" fill="#1a1a1a" stroke="#1a1a1a" stroke-width="0.15">D41</text>
<text x="587.03" y="523.5" font-size="6.7" text-anchor="middle" fill="#1a1a1a" stroke="#1a1a1a" stroke-width="0.15">D42</text>
<text x="622.57" y="523.5" font-size="6.7" text-anchor="middle" fill="#1a1a1a" stroke="#1a1a1a" stroke-width="0.15">D43</text>
<text x="651.32" y="502.61" font-size="6.7" text-anchor="middle" fill="#1a1a1a" stroke="#1a1a1a" stroke-width="0.15">D44</text>
<line x1="626.05" y1="457.6" x2="627.16" y2="457.14" stroke="#555" stroke-width="0.6"/>
<line x1="633.07" y1="454.69" x2="634.18" y2="454.23" stroke="#555" stroke-width="0.6"/>
<line x1="640" y1="451.82" x2="641.11" y2="451.36" stroke="#555" stroke-width="0.6"/>
<line x1="647.58" y1="448.68" x2="648.68" y2="448.22" stroke="#555" stroke-width="0.6"/>
<text x="605.1" y="467" font-size="5.0" text-anchor="start" fill="#333" stroke="#333" stroke-width="0.05">0.0</text>
<text x="617.8" y="467" font-size="5.0" text-anchor="start" fill="#333" stroke="#333" stroke-width="0.05">0.25</text>
<text x="630.5" y="467" font-size="5.0" text-anchor="start" fill="#333" stroke="#333" stroke-width="0.05">0.5</text>
<text x="643.2" y="467" font-size="5.0" text-anchor="start" fill="#333" stroke="#333" stroke-width="0.05">0.75</text>
<polygon points="134.00,342.41 139.60,342.41 136.80,337.20" fill="#111"/>
<polygon points="254.50,308.41 260.10,308.41 257.30,303.20" fill="#111"/>
<polygon points="357.30,288.81 362.90,288.81 360.10,283.60" fill="#111"/>
<polygon points="453.30,288.51 458.90,288.51 456.10,283.30" fill="#111"/>
<polygon points="556.40,310.01 562.00,310.01 559.20,304.80" fill="#111"/>
<polygon points="19.20,474.91 24.80,474.91 22.00,469.70" fill="#111"/>
<polygon points="162.20,508.01 167.80,508.01 165.00,502.80" fill="#111"/>
<polygon points="322.50,528.91 328.10,528.91 325.30,523.70" fill="#111"/>
<polygon points="489.10,529.41 494.70,529.41 491.90,524.20" fill="#111"/>
<polygon points="649.20,508.41 654.80,508.41 652.00,503.20" fill="#111"/>
<text x="350.7" y="267" font-size="10.2" font-weight="bold" text-anchor="middle" fill="#111">Comparison of DSC between trained from scratch and finetuned PAM</text>
<rect x="98.2" y="532.1" width="492.4" height="16.4" fill="#ebebeb"/>
<rect x="106.4" y="536.8" width="21" height="7" fill="#5562a0" stroke="#555" stroke-width="0.4"/>
<text x="131.6" y="543" font-size="9.4" text-anchor="start" fill="#222">PAM-2DMask-Scratch</text>
<rect x="261.1" y="536.8" width="20.4" height="7" fill="#e2622f" stroke="#555" stroke-width="0.4"/>
<text x="286.5" y="543" font-size="9.4" text-anchor="start" fill="#222">PAM-2DMask-Finetuned</text>
<polygon points="425.80,543.31 432.80,543.31 429.30,536.80" fill="#111"/>
<text x="437.5" y="543" font-size="9.4" text-anchor="start" fill="#222">Trained or finetuned on this dataset</text>
<polygon points="130.90,673.35 129.15,636.79 92.15,632.41 62.37,621.24 42.66,646.42 16.39,672.70 31.28,707.29 62.37,721.96 92.15,713.86 123.90,706.20" fill="#2aa9a0" fill-opacity="0.12" stroke="none"/>
<polygon points="88.64,672.70 93.68,662.29 82.51,661.75 76.82,666.56 47.04,649.92 18.58,672.70 31.28,707.29 76.82,679.48 89.74,705.54 120.39,703.57" fill="#d8a85c" fill-opacity="0.12" stroke="none"/>
<polygon points="126.52,673.35 123.24,640.95 90.40,638.32 64.12,627.81 54.92,655.84 27.99,672.70 31.28,707.29 76.82,679.48 89.74,705.54 123.90,706.20" fill="#5cab8a" fill-opacity="0.12" stroke="none"/>
<polygon points="116.67,673.35 114.92,647.08 87.55,646.64 69.16,642.04 49.45,651.89 18.58,672.70 30.84,707.29 76.82,679.48 95.21,722.18 119.96,703.57" fill="#3f55a5" fill-opacity="0.12" stroke="none"/>
<polygon points="107.26,673.35 112.73,648.83 86.02,651.46 71.13,649.70 45.51,647.73 18.58,672.70 31.71,706.63 74.41,685.61 91.05,711.67 120.39,703.57" fill="#ea5a2e" fill-opacity="0.12" stroke="none"/>
<circle cx="78.9" cy="673.3" r="13.58" fill="none" stroke="#b2b6bd" stroke-width="0.6"/>
<circle cx="78.9" cy="673.3" r="27.17" fill="none" stroke="#b2b6bd" stroke-width="0.6"/>
<circle cx="78.9" cy="673.3" r="40.75" fill="none" stroke="#b2b6bd" stroke-width="0.6"/>
<circle cx="78.9" cy="673.3" r="54.33" fill="none" stroke="#b2b6bd" stroke-width="0.6"/>
<line x1="78.9" y1="673.3" x2="144.1" y2="673.3" stroke="#b2b6bd" stroke-width="0.6"/>
<line x1="78.9" y1="673.3" x2="131.65" y2="634.98" stroke="#b2b6bd" stroke-width="0.6"/>
<line x1="78.9" y1="673.3" x2="99.05" y2="611.29" stroke="#b2b6bd" stroke-width="0.6"/>
<line x1="78.9" y1="673.3" x2="58.75" y2="611.29" stroke="#b2b6bd" stroke-width="0.6"/>
<line x1="78.9" y1="673.3" x2="26.15" y2="634.98" stroke="#b2b6bd" stroke-width="0.6"/>
<line x1="78.9" y1="673.3" x2="13.7" y2="673.3" stroke="#b2b6bd" stroke-width="0.6"/>
<line x1="78.9" y1="673.3" x2="26.15" y2="711.62" stroke="#b2b6bd" stroke-width="0.6"/>
<line x1="78.9" y1="673.3" x2="58.75" y2="735.31" stroke="#b2b6bd" stroke-width="0.6"/>
<line x1="78.9" y1="673.3" x2="99.05" y2="735.31" stroke="#b2b6bd" stroke-width="0.6"/>
<line x1="78.9" y1="673.3" x2="131.65" y2="711.62" stroke="#b2b6bd" stroke-width="0.6"/>
<polygon points="88.64,672.70 93.68,662.29 82.51,661.75 76.82,666.56 47.04,649.92 18.58,672.70 31.28,707.29 76.82,679.48 89.74,705.54 120.39,703.57" fill="none" stroke="#d8a85c" stroke-width="1.5" stroke-linejoin="miter"/>
<circle cx="88.64" cy="672.70" r="1.6" fill="#d8a85c"/>
<circle cx="93.68" cy="662.29" r="1.6" fill="#d8a85c"/>
<circle cx="82.51" cy="661.75" r="1.6" fill="#d8a85c"/>
<circle cx="76.82" cy="666.56" r="1.6" fill="#d8a85c"/>
<circle cx="47.04" cy="649.92" r="1.6" fill="#d8a85c"/>
<circle cx="18.58" cy="672.70" r="1.6" fill="#d8a85c"/>
<circle cx="31.28" cy="707.29" r="1.6" fill="#d8a85c"/>
<circle cx="76.82" cy="679.48" r="1.6" fill="#d8a85c"/>
<circle cx="89.74" cy="705.54" r="1.6" fill="#d8a85c"/>
<circle cx="120.39" cy="703.57" r="1.6" fill="#d8a85c"/>
<polygon points="126.52,673.35 123.24,640.95 90.40,638.32 64.12,627.81 54.92,655.84 27.99,672.70 31.28,707.29 76.82,679.48 89.74,705.54 123.90,706.20" fill="none" stroke="#5cab8a" stroke-width="1.5" stroke-linejoin="miter"/>
<circle cx="126.52" cy="673.35" r="1.6" fill="#5cab8a"/>
<circle cx="123.24" cy="640.95" r="1.6" fill="#5cab8a"/>
<circle cx="90.40" cy="638.32" r="1.6" fill="#5cab8a"/>
<circle cx="64.12" cy="627.81" r="1.6" fill="#5cab8a"/>
<circle cx="54.92" cy="655.84" r="1.6" fill="#5cab8a"/>
<circle cx="27.99" cy="672.70" r="1.6" fill="#5cab8a"/>
<circle cx="31.28" cy="707.29" r="1.6" fill="#5cab8a"/>
<circle cx="76.82" cy="679.48" r="1.6" fill="#5cab8a"/>
<circle cx="89.74" cy="705.54" r="1.6" fill="#5cab8a"/>
<circle cx="123.90" cy="706.20" r="1.6" fill="#5cab8a"/>
<polygon points="107.26,673.35 112.73,648.83 86.02,651.46 71.13,649.70 45.51,647.73 18.58,672.70 31.71,706.63 74.41,685.61 91.05,711.67 120.39,703.57" fill="none" stroke="#ea5a2e" stroke-width="1.5" stroke-linejoin="miter"/>
<circle cx="107.26" cy="673.35" r="1.6" fill="#ea5a2e"/>
<circle cx="112.73" cy="648.83" r="1.6" fill="#ea5a2e"/>
<circle cx="86.02" cy="651.46" r="1.6" fill="#ea5a2e"/>
<circle cx="71.13" cy="649.70" r="1.6" fill="#ea5a2e"/>
<circle cx="45.51" cy="647.73" r="1.6" fill="#ea5a2e"/>
<circle cx="18.58" cy="672.70" r="1.6" fill="#ea5a2e"/>
<circle cx="31.71" cy="706.63" r="1.6" fill="#ea5a2e"/>
<circle cx="74.41" cy="685.61" r="1.6" fill="#ea5a2e"/>
<circle cx="91.05" cy="711.67" r="1.6" fill="#ea5a2e"/>
<circle cx="120.39" cy="703.57" r="1.6" fill="#ea5a2e"/>
<polygon points="116.67,673.35 114.92,647.08 87.55,646.64 69.16,642.04 49.45,651.89 18.58,672.70 30.84,707.29 76.82,679.48 95.21,722.18 119.96,703.57" fill="none" stroke="#3f55a5" stroke-width="1.5" stroke-linejoin="miter"/>
<circle cx="116.67" cy="673.35" r="1.6" fill="#3f55a5"/>
<circle cx="114.92" cy="647.08" r="1.6" fill="#3f55a5"/>
<circle cx="87.55" cy="646.64" r="1.6" fill="#3f55a5"/>
<circle cx="69.16" cy="642.04" r="1.6" fill="#3f55a5"/>
<circle cx="49.45" cy="651.89" r="1.6" fill="#3f55a5"/>
<circle cx="18.58" cy="672.70" r="1.6" fill="#3f55a5"/>
<circle cx="30.84" cy="707.29" r="1.6" fill="#3f55a5"/>
<circle cx="76.82" cy="679.48" r="1.6" fill="#3f55a5"/>
<circle cx="95.21" cy="722.18" r="1.6" fill="#3f55a5"/>
<circle cx="119.96" cy="703.57" r="1.6" fill="#3f55a5"/>
<polygon points="130.90,673.35 129.15,636.79 92.15,632.41 62.37,621.24 42.66,646.42 16.39,672.70 31.28,707.29 62.37,721.96 92.15,713.86 123.90,706.20" fill="none" stroke="#2aa9a0" stroke-width="1.5" stroke-linejoin="miter"/>
<circle cx="130.90" cy="673.35" r="1.6" fill="#2aa9a0"/>
<circle cx="129.15" cy="636.79" r="1.6" fill="#2aa9a0"/>
<circle cx="92.15" cy="632.41" r="1.6" fill="#2aa9a0"/>
<circle cx="62.37" cy="621.24" r="1.6" fill="#2aa9a0"/>
<circle cx="42.66" cy="646.42" r="1.6" fill="#2aa9a0"/>
<circle cx="16.39" cy="672.70" r="1.6" fill="#2aa9a0"/>
<circle cx="31.28" cy="707.29" r="1.6" fill="#2aa9a0"/>
<circle cx="62.37" cy="721.96" r="1.6" fill="#2aa9a0"/>
<circle cx="92.15" cy="713.86" r="1.6" fill="#2aa9a0"/>
<circle cx="123.90" cy="706.20" r="1.6" fill="#2aa9a0"/>
<circle cx="78.9" cy="673.3" r="65.2" fill="none" stroke="#333" stroke-width="0.9"/>
<text x="152.4" y="674.78" font-size="6.6" text-anchor="middle" fill="#1a1a1a" stroke="#1a1a1a" stroke-width="0.15">D02</text>
<text x="138.36" y="631.57" font-size="6.6" text-anchor="middle" fill="#1a1a1a" stroke="#1a1a1a" stroke-width="0.15">D35</text>
<text x="101.61" y="604.87" font-size="6.6" text-anchor="middle" fill="#1a1a1a" stroke="#1a1a1a" stroke-width="0.15">D37</text>
<text x="56.19" y="604.87" font-size="6.6" text-anchor="middle" fill="#1a1a1a" stroke="#1a1a1a" stroke-width="0.15">D39</text>
<text x="19.44" y="631.57" font-size="6.6" text-anchor="middle" fill="#1a1a1a" stroke="#1a1a1a" stroke-width="0.15">D20</text>
<text x="5.4" y="674.78" font-size="6.6" text-anchor="middle" fill="#1a1a1a" stroke="#1a1a1a" stroke-width="0.15">D29</text>
<text x="19.44" y="717.98" font-size="6.6" text-anchor="middle" fill="#1a1a1a" stroke="#1a1a1a" stroke-width="0.15">D42</text>
<text x="56.19" y="744.68" font-size="6.6" text-anchor="middle" fill="#1a1a1a" stroke="#1a1a1a" stroke-width="0.15">D03</text>
<text x="101.61" y="744.68" font-size="6.6" text-anchor="middle" fill="#1a1a1a" stroke="#1a1a1a" stroke-width="0.15">D07</text>
<text x="138.36" y="717.98" font-size="6.6" text-anchor="middle" fill="#1a1a1a" stroke="#1a1a1a" stroke-width="0.15">D44</text>
<polygon points="277.44,672.91 292.77,641.60 259.26,644.89 237.37,633.28 230.80,658.68 195.77,672.91 208.47,702.91 245.03,689.77 261.45,705.76 289.92,701.16" fill="#d8a85c" fill-opacity="0.12" stroke="none"/>
<polygon points="275.69,672.91 288.39,645.33 258.39,647.51 241.31,643.79 227.08,656.27 195.33,672.91 215.03,697.88 240.87,703.35 258.17,697.44 276.34,691.96" fill="#5cab8a" fill-opacity="0.12" stroke="none"/>
<polygon points="299.99,672.91 299.33,637.66 262.11,637.22 234.30,623.43 216.57,647.73 189.85,672.91 205.84,705.54 236.27,717.58 263.21,712.33 292.77,702.91" fill="#3f55a5" fill-opacity="0.12" stroke="none"/>
<polygon points="303.28,672.91 300.43,636.13 263.64,631.75 233.21,620.80 213.28,645.98 187.23,672.91 201.90,707.29 234.08,723.06 264.30,714.30 296.71,706.20" fill="#ea5a2e" fill-opacity="0.12" stroke="none"/>
<circle cx="250.65" cy="673.05" r="13.58" fill="none" stroke="#b2b6bd" stroke-width="0.6"/>
<circle cx="250.65" cy="673.05" r="27.17" fill="none" stroke="#b2b6bd" stroke-width="0.6"/>
<circle cx="250.65" cy="673.05" r="40.75" fill="none" stroke="#b2b6bd" stroke-width="0.6"/>
<circle cx="250.65" cy="673.05" r="54.33" fill="none" stroke="#b2b6bd" stroke-width="0.6"/>
<line x1="250.65" y1="673.05" x2="315.85" y2="673.05" stroke="#b2b6bd" stroke-width="0.6"/>
<line x1="250.65" y1="673.05" x2="303.4" y2="634.73" stroke="#b2b6bd" stroke-width="0.6"/>
<line x1="250.65" y1="673.05" x2="270.8" y2="611.04" stroke="#b2b6bd" stroke-width="0.6"/>
<line x1="250.65" y1="673.05" x2="230.5" y2="611.04" stroke="#b2b6bd" stroke-width="0.6"/>
<line x1="250.65" y1="673.05" x2="197.9" y2="634.73" stroke="#b2b6bd" stroke-width="0.6"/>
<line x1="250.65" y1="673.05" x2="185.45" y2="673.05" stroke="#b2b6bd" stroke-width="0.6"/>
<line x1="250.65" y1="673.05" x2="197.9" y2="711.37" stroke="#b2b6bd" stroke-width="0.6"/>
<line x1="250.65" y1="673.05" x2="230.5" y2="735.06" stroke="#b2b6bd" stroke-width="0.6"/>
<line x1="250.65" y1="673.05" x2="270.8" y2="735.06" stroke="#b2b6bd" stroke-width="0.6"/>
<line x1="250.65" y1="673.05" x2="303.4" y2="711.37" stroke="#b2b6bd" stroke-width="0.6"/>
<polygon points="277.44,672.91 292.77,641.60 259.26,644.89 237.37,633.28 230.80,658.68 195.77,672.91 208.47,702.91 245.03,689.77 261.45,705.76 289.92,701.16" fill="none" stroke="#d8a85c" stroke-width="1.5" stroke-linejoin="miter"/>
<circle cx="277.44" cy="672.91" r="1.6" fill="#d8a85c"/>
<circle cx="292.77" cy="641.60" r="1.6" fill="#d8a85c"/>
<circle cx="259.26" cy="644.89" r="1.6" fill="#d8a85c"/>
<circle cx="237.37" cy="633.28" r="1.6" fill="#d8a85c"/>
<circle cx="230.80" cy="658.68" r="1.6" fill="#d8a85c"/>
<circle cx="195.77" cy="672.91" r="1.6" fill="#d8a85c"/>
<circle cx="208.47" cy="702.91" r="1.6" fill="#d8a85c"/>
<circle cx="245.03" cy="689.77" r="1.6" fill="#d8a85c"/>
<circle cx="261.45" cy="705.76" r="1.6" fill="#d8a85c"/>
<circle cx="289.92" cy="701.16" r="1.6" fill="#d8a85c"/>
<polygon points="275.69,672.91 288.39,645.33 258.39,647.51 241.31,643.79 227.08,656.27 195.33,672.91 215.03,697.88 240.87,703.35 258.17,697.44 276.34,691.96" fill="none" stroke="#5cab8a" stroke-width="1.5" stroke-linejoin="miter"/>
<circle cx="275.69" cy="672.91" r="1.6" fill="#5cab8a"/>
<circle cx="288.39" cy="645.33" r="1.6" fill="#5cab8a"/>
<circle cx="258.39" cy="647.51" r="1.6" fill="#5cab8a"/>
<circle cx="241.31" cy="643.79" r="1.6" fill="#5cab8a"/>
<circle cx="227.08" cy="656.27" r="1.6" fill="#5cab8a"/>
<circle cx="195.33" cy="672.91" r="1.6" fill="#5cab8a"/>
<circle cx="215.03" cy="697.88" r="1.6" fill="#5cab8a"/>
<circle cx="240.87" cy="703.35" r="1.6" fill="#5cab8a"/>
<circle cx="258.17" cy="697.44" r="1.6" fill="#5cab8a"/>
<circle cx="276.34" cy="691.96" r="1.6" fill="#5cab8a"/>
<polygon points="299.99,672.91 299.33,637.66 262.11,637.22 234.30,623.43 216.57,647.73 189.85,672.91 205.84,705.54 236.27,717.58 263.21,712.33 292.77,702.91" fill="none" stroke="#3f55a5" stroke-width="1.5" stroke-linejoin="miter"/>
<circle cx="299.99" cy="672.91" r="1.6" fill="#3f55a5"/>
<circle cx="299.33" cy="637.66" r="1.6" fill="#3f55a5"/>
<circle cx="262.11" cy="637.22" r="1.6" fill="#3f55a5"/>
<circle cx="234.30" cy="623.43" r="1.6" fill="#3f55a5"/>
<circle cx="216.57" cy="647.73" r="1.6" fill="#3f55a5"/>
<circle cx="189.85" cy="672.91" r="1.6" fill="#3f55a5"/>
<circle cx="205.84" cy="705.54" r="1.6" fill="#3f55a5"/>
<circle cx="236.27" cy="717.58" r="1.6" fill="#3f55a5"/>
<circle cx="263.21" cy="712.33" r="1.6" fill="#3f55a5"/>
<circle cx="292.77" cy="702.91" r="1.6" fill="#3f55a5"/>
<polygon points="303.28,672.91 300.43,636.13 263.64,631.75 233.21,620.80 213.28,645.98 187.23,672.91 201.90,707.29 234.08,723.06 264.30,714.30 296.71,706.20" fill="none" stroke="#ea5a2e" stroke-width="1.5" stroke-linejoin="miter"/>
<circle cx="303.28" cy="672.91" r="1.6" fill="#ea5a2e"/>
<circle cx="300.43" cy="636.13" r="1.6" fill="#ea5a2e"/>
<circle cx="263.64" cy="631.75" r="1.6" fill="#ea5a2e"/>
<circle cx="233.21" cy="620.80" r="1.6" fill="#ea5a2e"/>
<circle cx="213.28" cy="645.98" r="1.6" fill="#ea5a2e"/>
<circle cx="187.23" cy="672.91" r="1.6" fill="#ea5a2e"/>
<circle cx="201.90" cy="707.29" r="1.6" fill="#ea5a2e"/>
<circle cx="234.08" cy="723.06" r="1.6" fill="#ea5a2e"/>
<circle cx="264.30" cy="714.30" r="1.6" fill="#ea5a2e"/>
<circle cx="296.71" cy="706.20" r="1.6" fill="#ea5a2e"/>
<circle cx="250.65" cy="673.05" r="65.2" fill="none" stroke="#333" stroke-width="0.9"/>
<text x="324.15" y="674.53" font-size="6.6" text-anchor="middle" fill="#1a1a1a" stroke="#1a1a1a" stroke-width="0.15">D02</text>
<text x="310.11" y="631.32" font-size="6.6" text-anchor="middle" fill="#1a1a1a" stroke="#1a1a1a" stroke-width="0.15">D35</text>
<text x="273.36" y="604.62" font-size="6.6" text-anchor="middle" fill="#1a1a1a" stroke="#1a1a1a" stroke-width="0.15">D37</text>
<text x="227.94" y="604.62" font-size="6.6" text-anchor="middle" fill="#1a1a1a" stroke="#1a1a1a" stroke-width="0.15">D39</text>
<text x="191.19" y="631.32" font-size="6.6" text-anchor="middle" fill="#1a1a1a" stroke="#1a1a1a" stroke-width="0.15">D20</text>
<text x="177.15" y="674.53" font-size="6.6" text-anchor="middle" fill="#1a1a1a" stroke="#1a1a1a" stroke-width="0.15">D29</text>
<text x="191.19" y="717.73" font-size="6.6" text-anchor="middle" fill="#1a1a1a" stroke="#1a1a1a" stroke-width="0.15">D42</text>
<text x="227.94" y="744.43" font-size="6.6" text-anchor="middle" fill="#1a1a1a" stroke="#1a1a1a" stroke-width="0.15">D03</text>
<text x="273.36" y="744.43" font-size="6.6" text-anchor="middle" fill="#1a1a1a" stroke="#1a1a1a" stroke-width="0.15">D07</text>
<text x="310.11" y="717.73" font-size="6.6" text-anchor="middle" fill="#1a1a1a" stroke="#1a1a1a" stroke-width="0.15">D44</text>
<polygon points="443.02,672.26 433.17,665.69 430.98,652.11 416.97,649.70 413.46,665.03 408.21,672.26 402.51,688.24 418.50,689.77 429.45,689.34 433.39,679.92" fill="#3f55a5" fill-opacity="0.14" stroke="none"/>
<polygon points="476.52,672.26 473.90,636.57 437.55,632.19 407.11,620.80 387.41,645.98 361.13,672.26 375.80,707.29 408.21,722.62 437.77,714.30 469.52,706.20" fill="#ea5a2e" fill-opacity="0.14" stroke="none"/>
<circle cx="424.65" cy="672.6" r="13.58" fill="none" stroke="#b2b6bd" stroke-width="0.6"/>
<circle cx="424.65" cy="672.6" r="27.17" fill="none" stroke="#b2b6bd" stroke-width="0.6"/>
<circle cx="424.65" cy="672.6" r="40.75" fill="none" stroke="#b2b6bd" stroke-width="0.6"/>
<circle cx="424.65" cy="672.6" r="54.33" fill="none" stroke="#b2b6bd" stroke-width="0.6"/>
<line x1="424.65" y1="672.6" x2="489.85" y2="672.6" stroke="#b2b6bd" stroke-width="0.6"/>
<line x1="424.65" y1="672.6" x2="477.4" y2="634.28" stroke="#b2b6bd" stroke-width="0.6"/>
<line x1="424.65" y1="672.6" x2="444.8" y2="610.59" stroke="#b2b6bd" stroke-width="0.6"/>
<line x1="424.65" y1="672.6" x2="404.5" y2="610.59" stroke="#b2b6bd" stroke-width="0.6"/>
<line x1="424.65" y1="672.6" x2="371.9" y2="634.28" stroke="#b2b6bd" stroke-width="0.6"/>
<line x1="424.65" y1="672.6" x2="359.45" y2="672.6" stroke="#b2b6bd" stroke-width="0.6"/>
<line x1="424.65" y1="672.6" x2="371.9" y2="710.92" stroke="#b2b6bd" stroke-width="0.6"/>
<line x1="424.65" y1="672.6" x2="404.5" y2="734.61" stroke="#b2b6bd" stroke-width="0.6"/>
<line x1="424.65" y1="672.6" x2="444.8" y2="734.61" stroke="#b2b6bd" stroke-width="0.6"/>
<line x1="424.65" y1="672.6" x2="477.4" y2="710.92" stroke="#b2b6bd" stroke-width="0.6"/>
<polygon points="443.02,672.26 433.17,665.69 430.98,652.11 416.97,649.70 413.46,665.03 408.21,672.26 402.51,688.24 418.50,689.77 429.45,689.34 433.39,679.92" fill="none" stroke="#3f55a5" stroke-width="1.5" stroke-linejoin="miter"/>
<circle cx="443.02" cy="672.26" r="1.6" fill="#3f55a5"/>
<circle cx="433.17" cy="665.69" r="1.6" fill="#3f55a5"/>
<circle cx="430.98" cy="652.11" r="1.6" fill="#3f55a5"/>
<circle cx="416.97" cy="649.70" r="1.6" fill="#3f55a5"/>
<circle cx="413.46" cy="665.03" r="1.6" fill="#3f55a5"/>
<circle cx="408.21" cy="672.26" r="1.6" fill="#3f55a5"/>
<circle cx="402.51" cy="688.24" r="1.6" fill="#3f55a5"/>
<circle cx="418.50" cy="689.77" r="1.6" fill="#3f55a5"/>
<circle cx="429.45" cy="689.34" r="1.6" fill="#3f55a5"/>
<circle cx="433.39" cy="679.92" r="1.6" fill="#3f55a5"/>
<polygon points="476.52,672.26 473.90,636.57 437.55,632.19 407.11,620.80 387.41,645.98 361.13,672.26 375.80,707.29 408.21,722.62 437.77,714.30 469.52,706.20" fill="none" stroke="#ea5a2e" stroke-width="1.5" stroke-linejoin="miter"/>
<circle cx="476.52" cy="672.26" r="1.6" fill="#ea5a2e"/>
<circle cx="473.90" cy="636.57" r="1.6" fill="#ea5a2e"/>
<circle cx="437.55" cy="632.19" r="1.6" fill="#ea5a2e"/>
<circle cx="407.11" cy="620.80" r="1.6" fill="#ea5a2e"/>
<circle cx="387.41" cy="645.98" r="1.6" fill="#ea5a2e"/>
<circle cx="361.13" cy="672.26" r="1.6" fill="#ea5a2e"/>
<circle cx="375.80" cy="707.29" r="1.6" fill="#ea5a2e"/>
<circle cx="408.21" cy="722.62" r="1.6" fill="#ea5a2e"/>
<circle cx="437.77" cy="714.30" r="1.6" fill="#ea5a2e"/>
<circle cx="469.52" cy="706.20" r="1.6" fill="#ea5a2e"/>
<circle cx="424.65" cy="672.6" r="65.2" fill="none" stroke="#333" stroke-width="0.9"/>
<text x="498.15" y="674.08" font-size="6.6" text-anchor="middle" fill="#1a1a1a" stroke="#1a1a1a" stroke-width="0.15">D02</text>
<text x="484.11" y="630.87" font-size="6.6" text-anchor="middle" fill="#1a1a1a" stroke="#1a1a1a" stroke-width="0.15">D35</text>
<text x="447.36" y="604.17" font-size="6.6" text-anchor="middle" fill="#1a1a1a" stroke="#1a1a1a" stroke-width="0.15">D37</text>
<text x="401.94" y="604.17" font-size="6.6" text-anchor="middle" fill="#1a1a1a" stroke="#1a1a1a" stroke-width="0.15">D39</text>
<text x="365.19" y="630.87" font-size="6.6" text-anchor="middle" fill="#1a1a1a" stroke="#1a1a1a" stroke-width="0.15">D20</text>
<text x="351.15" y="674.08" font-size="6.6" text-anchor="middle" fill="#1a1a1a" stroke="#1a1a1a" stroke-width="0.15">D29</text>
<text x="365.19" y="717.28" font-size="6.6" text-anchor="middle" fill="#1a1a1a" stroke="#1a1a1a" stroke-width="0.15">D42</text>
<text x="401.94" y="743.98" font-size="6.6" text-anchor="middle" fill="#1a1a1a" stroke="#1a1a1a" stroke-width="0.15">D03</text>
<text x="447.36" y="743.98" font-size="6.6" text-anchor="middle" fill="#1a1a1a" stroke="#1a1a1a" stroke-width="0.15">D07</text>
<text x="484.11" y="717.28" font-size="6.6" text-anchor="middle" fill="#1a1a1a" stroke="#1a1a1a" stroke-width="0.15">D44</text>
<polygon points="644.05,672.91 647.33,641.60 613.83,645.54 591.94,633.28 581.21,655.84 544.42,672.91 566.32,700.72 598.51,693.06 614.49,701.82 644.49,701.38" fill="#d8a85c" fill-opacity="0.12" stroke="none"/>
<polygon points="657.68,672.92 654.95,636.49 618.04,632.32 588.40,621.37 568.56,646.33 542.18,672.92 556.52,706.95 589.06,722.05 618.25,713.73 650.79,705.84" fill="#5cab8a" fill-opacity="0.12" stroke="none"/>
<polygon points="657.98,672.92 655.19,636.31 618.12,632.04 588.31,621.09 568.31,646.16 541.88,672.92 556.27,707.12 588.97,722.33 618.34,714.01 651.03,706.02" fill="#3f55a5" fill-opacity="0.12" stroke="none"/>
<polygon points="658.28,672.91 655.44,636.13 618.21,631.75 588.21,620.80 568.07,645.98 541.58,672.91 556.03,707.29 588.87,722.62 618.43,714.30 651.28,706.20" fill="#ea5a2e" fill-opacity="0.12" stroke="none"/>
<circle cx="605.5" cy="673.05" r="13.58" fill="none" stroke="#b2b6bd" stroke-width="0.6"/>
<circle cx="605.5" cy="673.05" r="27.17" fill="none" stroke="#b2b6bd" stroke-width="0.6"/>
<circle cx="605.5" cy="673.05" r="40.75" fill="none" stroke="#b2b6bd" stroke-width="0.6"/>
<circle cx="605.5" cy="673.05" r="54.33" fill="none" stroke="#b2b6bd" stroke-width="0.6"/>
<line x1="605.5" y1="673.05" x2="670.7" y2="673.05" stroke="#b2b6bd" stroke-width="0.6"/>
<line x1="605.5" y1="673.05" x2="658.25" y2="634.73" stroke="#b2b6bd" stroke-width="0.6"/>
<line x1="605.5" y1="673.05" x2="625.65" y2="611.04" stroke="#b2b6bd" stroke-width="0.6"/>
<line x1="605.5" y1="673.05" x2="585.35" y2="611.04" stroke="#b2b6bd" stroke-width="0.6"/>
<line x1="605.5" y1="673.05" x2="552.75" y2="634.73" stroke="#b2b6bd" stroke-width="0.6"/>
<line x1="605.5" y1="673.05" x2="540.3" y2="673.05" stroke="#b2b6bd" stroke-width="0.6"/>
<line x1="605.5" y1="673.05" x2="552.75" y2="711.37" stroke="#b2b6bd" stroke-width="0.6"/>
<line x1="605.5" y1="673.05" x2="585.35" y2="735.06" stroke="#b2b6bd" stroke-width="0.6"/>
<line x1="605.5" y1="673.05" x2="625.65" y2="735.06" stroke="#b2b6bd" stroke-width="0.6"/>
<line x1="605.5" y1="673.05" x2="658.25" y2="711.37" stroke="#b2b6bd" stroke-width="0.6"/>
<polygon points="644.05,672.91 647.33,641.60 613.83,645.54 591.94,633.28 581.21,655.84 544.42,672.91 566.32,700.72 598.51,693.06 614.49,701.82 644.49,701.38" fill="none" stroke="#d8a85c" stroke-width="1.5" stroke-linejoin="miter"/>
<circle cx="644.05" cy="672.91" r="1.6" fill="#d8a85c"/>
<circle cx="647.33" cy="641.60" r="1.6" fill="#d8a85c"/>
<circle cx="613.83" cy="645.54" r="1.6" fill="#d8a85c"/>
<circle cx="591.94" cy="633.28" r="1.6" fill="#d8a85c"/>
<circle cx="581.21" cy="655.84" r="1.6" fill="#d8a85c"/>
<circle cx="544.42" cy="672.91" r="1.6" fill="#d8a85c"/>
<circle cx="566.32" cy="700.72" r="1.6" fill="#d8a85c"/>
<circle cx="598.51" cy="693.06" r="1.6" fill="#d8a85c"/>
<circle cx="614.49" cy="701.82" r="1.6" fill="#d8a85c"/>
<circle cx="644.49" cy="701.38" r="1.6" fill="#d8a85c"/>
<polygon points="657.68,672.92 654.95,636.49 618.04,632.32 588.40,621.37 568.56,646.33 542.18,672.92 556.52,706.95 589.06,722.05 618.25,713.73 650.79,705.84" fill="none" stroke="#5cab8a" stroke-width="1.5" stroke-linejoin="miter"/>
<circle cx="657.68" cy="672.92" r="1.6" fill="#5cab8a"/>
<circle cx="654.95" cy="636.49" r="1.6" fill="#5cab8a"/>
<circle cx="618.04" cy="632.32" r="1.6" fill="#5cab8a"/>
<circle cx="588.40" cy="621.37" r="1.6" fill="#5cab8a"/>
<circle cx="568.56" cy="646.33" r="1.6" fill="#5cab8a"/>
<circle cx="542.18" cy="672.92" r="1.6" fill="#5cab8a"/>
<circle cx="556.52" cy="706.95" r="1.6" fill="#5cab8a"/>
<circle cx="589.06" cy="722.05" r="1.6" fill="#5cab8a"/>
<circle cx="618.25" cy="713.73" r="1.6" fill="#5cab8a"/>
<circle cx="650.79" cy="705.84" r="1.6" fill="#5cab8a"/>
<polygon points="657.98,672.92 655.19,636.31 618.12,632.04 588.31,621.09 568.31,646.16 541.88,672.92 556.27,707.12 588.97,722.33 618.34,714.01 651.03,706.02" fill="none" stroke="#3f55a5" stroke-width="1.5" stroke-linejoin="miter"/>
<circle cx="657.98" cy="672.92" r="1.6" fill="#3f55a5"/>
<circle cx="655.19" cy="636.31" r="1.6" fill="#3f55a5"/>
<circle cx="618.12" cy="632.04" r="1.6" fill="#3f55a5"/>
<circle cx="588.31" cy="621.09" r="1.6" fill="#3f55a5"/>
<circle cx="568.31" cy="646.16" r="1.6" fill="#3f55a5"/>
<circle cx="541.88" cy="672.92" r="1.6" fill="#3f55a5"/>
<circle cx="556.27" cy="707.12" r="1.6" fill="#3f55a5"/>
<circle cx="588.97" cy="722.33" r="1.6" fill="#3f55a5"/>
<circle cx="618.34" cy="714.01" r="1.6" fill="#3f55a5"/>
<circle cx="651.03" cy="706.02" r="1.6" fill="#3f55a5"/>
<polygon points="658.28,672.91 655.44,636.13 618.21,631.75 588.21,620.80 568.07,645.98 541.58,672.91 556.03,707.29 588.87,722.62 618.43,714.30 651.28,706.20" fill="none" stroke="#ea5a2e" stroke-width="1.5" stroke-linejoin="miter"/>
<circle cx="658.28" cy="672.91" r="1.6" fill="#ea5a2e"/>
<circle cx="655.44" cy="636.13" r="1.6" fill="#ea5a2e"/>
<circle cx="618.21" cy="631.75" r="1.6" fill="#ea5a2e"/>
<circle cx="588.21" cy="620.80" r="1.6" fill="#ea5a2e"/>
<circle cx="568.07" cy="645.98" r="1.6" fill="#ea5a2e"/>
<circle cx="541.58" cy="672.91" r="1.6" fill="#ea5a2e"/>
<circle cx="556.03" cy="707.29" r="1.6" fill="#ea5a2e"/>
<circle cx="588.87" cy="722.62" r="1.6" fill="#ea5a2e"/>
<circle cx="618.43" cy="714.30" r="1.6" fill="#ea5a2e"/>
<circle cx="651.28" cy="706.20" r="1.6" fill="#ea5a2e"/>
<circle cx="605.5" cy="673.05" r="65.2" fill="none" stroke="#333" stroke-width="0.9"/>
<text x="679" y="674.53" font-size="6.6" text-anchor="middle" fill="#1a1a1a" stroke="#1a1a1a" stroke-width="0.15">D02</text>
<text x="664.96" y="631.32" font-size="6.6" text-anchor="middle" fill="#1a1a1a" stroke="#1a1a1a" stroke-width="0.15">D35</text>
<text x="628.21" y="604.62" font-size="6.6" text-anchor="middle" fill="#1a1a1a" stroke="#1a1a1a" stroke-width="0.15">D37</text>
<text x="582.79" y="604.62" font-size="6.6" text-anchor="middle" fill="#1a1a1a" stroke="#1a1a1a" stroke-width="0.15">D39</text>
<text x="546.04" y="631.32" font-size="6.6" text-anchor="middle" fill="#1a1a1a" stroke="#1a1a1a" stroke-width="0.15">D20</text>
<text x="532" y="674.53" font-size="6.6" text-anchor="middle" fill="#1a1a1a" stroke="#1a1a1a" stroke-width="0.15">D29</text>
<text x="546.04" y="717.73" font-size="6.6" text-anchor="middle" fill="#1a1a1a" stroke="#1a1a1a" stroke-width="0.15">D42</text>
<text x="582.79" y="744.43" font-size="6.6" text-anchor="middle" fill="#1a1a1a" stroke="#1a1a1a" stroke-width="0.15">D03</text>
<text x="628.21" y="744.43" font-size="6.6" text-anchor="middle" fill="#1a1a1a" stroke="#1a1a1a" stroke-width="0.15">D07</text>
<text x="664.96" y="717.73" font-size="6.6" text-anchor="middle" fill="#1a1a1a" stroke="#1a1a1a" stroke-width="0.15">D44</text>
<text x="79.3" y="581.8" font-size="10.2" font-weight="bold" text-anchor="middle" fill="#111">Ablation study of</text>
<text x="79.3" y="593.5" font-size="10.2" font-weight="bold" text-anchor="middle" fill="#111">normalization procedures</text>
<text x="250.5" y="581.8" font-size="10.2" font-weight="bold" text-anchor="middle" fill="#111">Ablation study on</text>
<text x="250.5" y="593.3" font-size="10.2" font-weight="bold" text-anchor="middle" fill="#111">guiding prompt generation</text>
<text x="424.1" y="568.7" font-size="10.2" font-weight="bold" text-anchor="middle" fill="#111">Ablation study</text>
<text x="424.1" y="580.4" font-size="10.2" font-weight="bold" text-anchor="middle" fill="#111">on the decoupling of</text>
<text x="424.1" y="591.9" font-size="10.2" font-weight="bold" text-anchor="middle" fill="#111">image and mask encoders</text>
<text x="605.2" y="567.6" font-size="10.2" font-weight="bold" text-anchor="middle" fill="#111">Ablation study</text>
<text x="605.2" y="579.3" font-size="10.2" font-weight="bold" text-anchor="middle" fill="#111">of the multi-scale</text>
<text x="605.2" y="591" font-size="10.2" font-weight="bold" text-anchor="middle" fill="#111">prompt-guided decoder</text>
<rect x="21.1" y="753.9" width="10.2" height="5.7" fill="#d8a85c" stroke="#555" stroke-width="0.35"/>
<text x="33.9" y="759.6" font-size="8.5" text-anchor="start" fill="#222">N1</text>
<rect x="21.1" y="768.3" width="10.2" height="5.7" fill="#5cab8a" stroke="#555" stroke-width="0.35"/>
<text x="33.9" y="774" font-size="8.5" text-anchor="start" fill="#222">N2</text>
<rect x="54.4" y="753.9" width="10.2" height="5.7" fill="#3f55a5" stroke="#555" stroke-width="0.35"/>
<text x="67.6" y="759.6" font-size="8.5" text-anchor="start" fill="#222">N3</text>
<rect x="54.4" y="768.3" width="10.2" height="5.7" fill="#ea5a2e" stroke="#555" stroke-width="0.35"/>
<text x="67.6" y="774" font-size="8.5" text-anchor="start" fill="#222">N4</text>
<rect x="87.4" y="753.9" width="10.2" height="5.7" fill="#2aa9a0" stroke="#555" stroke-width="0.35"/>
<text x="100.8" y="759.6" font-size="8.5" text-anchor="start" fill="#222">Dynamic</text>
<text x="100.8" y="769.2" font-size="8.5" text-anchor="start" fill="#222">(PAM)</text>
<rect x="176.2" y="753.6" width="10.2" height="5.7" fill="#d8a85c" stroke="#555" stroke-width="0.35"/>
<text x="189.9" y="759.4" font-size="8.5" text-anchor="start" fill="#222">Full-box</text>
<rect x="176.2" y="768" width="10.2" height="5.7" fill="#5cab8a" stroke="#555" stroke-width="0.35"/>
<text x="189.9" y="773.8" font-size="8.5" text-anchor="start" fill="#222">Adaptive</text>
<rect x="224.1" y="753.6" width="10.2" height="5.7" fill="#3f55a5" stroke="#555" stroke-width="0.35"/>
<text x="237.7" y="759.4" font-size="8.5" text-anchor="start" fill="#222">Box2Mask (PAM-2DBox)</text>
<rect x="224.1" y="768" width="10.2" height="5.7" fill="#ea5a2e" stroke="#555" stroke-width="0.35"/>
<text x="237.7" y="773.8" font-size="8.5" text-anchor="start" fill="#222">Manual (PAM-2DMask)</text>
<rect x="347.1" y="753.9" width="10.2" height="5.7" fill="#3f55a5" stroke="#555" stroke-width="0.35"/>
<text x="361" y="759.7" font-size="8.5" text-anchor="start" fill="#222">Shared image-mask encoder</text>
<rect x="347.1" y="768.1" width="10.2" height="5.7" fill="#ea5a2e" stroke="#555" stroke-width="0.35"/>
<text x="361" y="773.9" font-size="8.5" text-anchor="start" fill="#222">Decoupled image-mask encoders (PAM)</text>
<rect x="539.3" y="753.6" width="10.2" height="5.7" fill="#d8a85c" stroke="#555" stroke-width="0.35"/>
<text x="552.5" y="759.3" font-size="8.5" text-anchor="start" fill="#222">R1</text>
<rect x="539.3" y="768" width="10.2" height="5.7" fill="#5cab8a" stroke="#555" stroke-width="0.35"/>
<text x="552.5" y="773.7" font-size="8.5" text-anchor="start" fill="#222">R1+R2</text>
<rect x="587.5" y="753.6" width="10.2" height="5.7" fill="#3f55a5" stroke="#555" stroke-width="0.35"/>
<text x="600.7" y="759.3" font-size="8.5" text-anchor="start" fill="#222">R1+R2+R3</text>
<rect x="587.5" y="768" width="10.2" height="5.7" fill="#ea5a2e" stroke="#555" stroke-width="0.35"/>
<text x="600.7" y="773.7" font-size="8.5" text-anchor="start" fill="#222">R1+R2+R3+R4 (PAM)</text>
</svg></body></html>
